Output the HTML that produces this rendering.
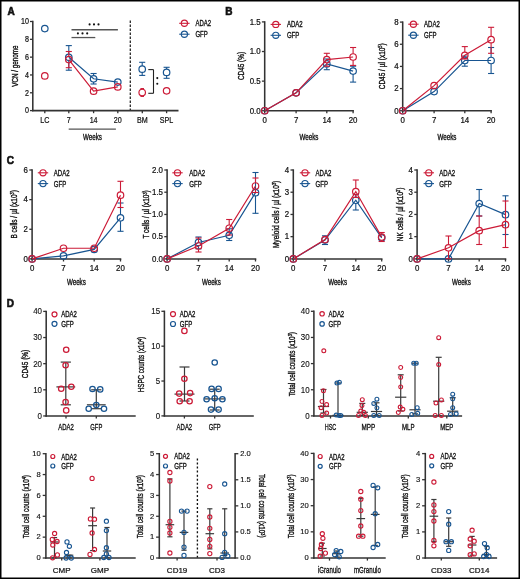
<!DOCTYPE html>
<html><head><meta charset="utf-8">
<style>
html,body{margin:0;padding:0;background:#fff;}
body{width:520px;height:579px;overflow:hidden;}
svg{display:block;font-family:"Liberation Sans",sans-serif;will-change:transform;filter:blur(0.3px);}
</style></head><body>
<svg width="520" height="579" viewBox="0 0 520 579" fill="#111">
<rect x="0.75" y="0.75" width="518.5" height="577.5" fill="#fff" stroke="#000" stroke-width="1.5"/>
<text x="7.6" y="14.9" font-size="10" font-weight="bold" stroke="#111" stroke-width="0.6">A</text>
<line x1="32.8" y1="20.8" x2="32.8" y2="111.3" stroke="#333" stroke-width="1.55"/>
<line x1="30" y1="110.6" x2="32.8" y2="110.6" stroke="#333" stroke-width="1.3"/>
<text x="25.03" y="113.4" font-size="8.3" textLength="3.97" lengthAdjust="spacingAndGlyphs" stroke="#111" stroke-width="0.22">0</text>
<line x1="30" y1="92.78" x2="32.8" y2="92.78" stroke="#333" stroke-width="1.3"/>
<text x="25.03" y="95.58" font-size="8.3" textLength="3.97" lengthAdjust="spacingAndGlyphs" stroke="#111" stroke-width="0.22">2</text>
<line x1="30" y1="74.96" x2="32.8" y2="74.96" stroke="#333" stroke-width="1.3"/>
<text x="25.03" y="77.76" font-size="8.3" textLength="3.97" lengthAdjust="spacingAndGlyphs" stroke="#111" stroke-width="0.22">4</text>
<line x1="30" y1="57.14" x2="32.8" y2="57.14" stroke="#333" stroke-width="1.3"/>
<text x="25.03" y="59.94" font-size="8.3" textLength="3.97" lengthAdjust="spacingAndGlyphs" stroke="#111" stroke-width="0.22">6</text>
<line x1="30" y1="39.32" x2="32.8" y2="39.32" stroke="#333" stroke-width="1.3"/>
<text x="25.03" y="42.12" font-size="8.3" textLength="3.97" lengthAdjust="spacingAndGlyphs" stroke="#111" stroke-width="0.22">8</text>
<line x1="30" y1="21.5" x2="32.8" y2="21.5" stroke="#333" stroke-width="1.3"/>
<text x="21.06" y="24.3" font-size="8.3" textLength="7.94" lengthAdjust="spacingAndGlyphs" stroke="#111" stroke-width="0.22">10</text>
<text x="-3.1" y="66.1" font-size="8.4" textLength="41.4" lengthAdjust="spacingAndGlyphs" stroke="#111" stroke-width="0.36" transform="rotate(-90 17.6 66.1)">VCN / genome</text>
<line x1="32.1" y1="110.6" x2="178.5" y2="110.6" stroke="#333" stroke-width="1.55"/>
<line x1="44.8" y1="110.6" x2="44.8" y2="113.2" stroke="#333" stroke-width="1.3"/>
<text x="40.24" y="123.1" font-size="8.3" textLength="9.12" lengthAdjust="spacingAndGlyphs" stroke="#111" stroke-width="0.22">LC</text>
<line x1="68.8" y1="110.6" x2="68.8" y2="113.2" stroke="#333" stroke-width="1.3"/>
<text x="66.82" y="123.1" font-size="8.3" textLength="3.97" lengthAdjust="spacingAndGlyphs" stroke="#111" stroke-width="0.22">7</text>
<line x1="93.6" y1="110.6" x2="93.6" y2="113.2" stroke="#333" stroke-width="1.3"/>
<text x="89.63" y="123.1" font-size="8.3" textLength="7.94" lengthAdjust="spacingAndGlyphs" stroke="#111" stroke-width="0.22">14</text>
<line x1="117.8" y1="110.6" x2="117.8" y2="113.2" stroke="#333" stroke-width="1.3"/>
<text x="113.83" y="123.1" font-size="8.3" textLength="7.94" lengthAdjust="spacingAndGlyphs" stroke="#111" stroke-width="0.22">20</text>
<line x1="142.3" y1="110.6" x2="142.3" y2="113.2" stroke="#333" stroke-width="1.3"/>
<text x="136.95" y="123.1" font-size="8.3" textLength="10.71" lengthAdjust="spacingAndGlyphs" stroke="#111" stroke-width="0.22">BM</text>
<line x1="166.6" y1="110.6" x2="166.6" y2="113.2" stroke="#333" stroke-width="1.3"/>
<text x="159.85" y="123.1" font-size="8.3" textLength="13.49" lengthAdjust="spacingAndGlyphs" stroke="#111" stroke-width="0.22">SPL</text>
<line x1="68.7" y1="129.1" x2="115.9" y2="129.1" stroke="#555" stroke-width="1.35"/>
<text x="83.05" y="139.9" font-size="8.6" textLength="18.9" lengthAdjust="spacingAndGlyphs" stroke="#111" stroke-width="0.36">Weeks</text>
<line x1="130.3" y1="20.5" x2="130.3" y2="110" stroke="#222" stroke-width="1.25" stroke-dasharray="2.4,1.6"/>
<line x1="71.5" y1="29.75" x2="117.9" y2="29.75" stroke="#555" stroke-width="1.4"/>
<line x1="71.5" y1="37.55" x2="95.3" y2="37.55" stroke="#555" stroke-width="1.3"/>
<circle cx="89.6" cy="24.4" r="1.05" fill="#111"/>
<circle cx="94" cy="24.4" r="1.05" fill="#111"/>
<circle cx="98.5" cy="24.4" r="1.05" fill="#111"/>
<circle cx="77.9" cy="33.4" r="1.05" fill="#111"/>
<circle cx="82.5" cy="33.4" r="1.05" fill="#111"/>
<circle cx="87.2" cy="33.4" r="1.05" fill="#111"/>
<line x1="153.5" y1="69.6" x2="153.5" y2="93.3" stroke="#222" stroke-width="1.1"/>
<line x1="148.3" y1="69.6" x2="153.5" y2="69.6" stroke="#222" stroke-width="1.1"/>
<line x1="148.3" y1="93.3" x2="153.5" y2="93.3" stroke="#222" stroke-width="1.1"/>
<circle cx="157.3" cy="78.1" r="1.05" fill="#111"/>
<circle cx="157.3" cy="83.8" r="1.05" fill="#111"/>
<polyline points="68.8,57.3 93.6,78.8 117.8,82.1" fill="none" stroke="#185591" stroke-width="1.2"/>
<line x1="68.8" y1="45.6" x2="68.8" y2="54" stroke="#185591" stroke-width="1.1"/>
<line x1="68.8" y1="60.6" x2="68.8" y2="70.2" stroke="#185591" stroke-width="1.1"/>
<line x1="65.75" y1="45.6" x2="71.85" y2="45.6" stroke="#185591" stroke-width="1.1"/>
<line x1="65.75" y1="70.2" x2="71.85" y2="70.2" stroke="#185591" stroke-width="1.1"/>
<line x1="93.6" y1="73.5" x2="93.6" y2="75.5" stroke="#185591" stroke-width="1.1"/>
<line x1="93.6" y1="82.1" x2="93.6" y2="84" stroke="#185591" stroke-width="1.1"/>
<line x1="90.55" y1="73.5" x2="96.65" y2="73.5" stroke="#185591" stroke-width="1.1"/>
<line x1="90.55" y1="84" x2="96.65" y2="84" stroke="#185591" stroke-width="1.1"/>
<circle cx="68.8" cy="57.3" r="3.25" fill="none" stroke="#185591" stroke-width="1.2"/>
<circle cx="93.6" cy="78.8" r="3.25" fill="none" stroke="#185591" stroke-width="1.2"/>
<circle cx="117.8" cy="82.1" r="3.25" fill="none" stroke="#185591" stroke-width="1.2"/>
<polyline points="68.8,59.6 93.6,91.2 117.8,86.9" fill="none" stroke="#cc1b37" stroke-width="1.2"/>
<line x1="68.8" y1="51.5" x2="68.8" y2="56.3" stroke="#cc1b37" stroke-width="1.1"/>
<line x1="68.8" y1="62.9" x2="68.8" y2="67.7" stroke="#cc1b37" stroke-width="1.1"/>
<line x1="65.75" y1="51.5" x2="71.85" y2="51.5" stroke="#cc1b37" stroke-width="1.1"/>
<line x1="65.75" y1="67.7" x2="71.85" y2="67.7" stroke="#cc1b37" stroke-width="1.1"/>
<circle cx="68.8" cy="59.6" r="3.25" fill="none" stroke="#cc1b37" stroke-width="1.2"/>
<circle cx="93.6" cy="91.2" r="3.25" fill="none" stroke="#cc1b37" stroke-width="1.2"/>
<circle cx="117.8" cy="86.9" r="3.25" fill="none" stroke="#cc1b37" stroke-width="1.2"/>
<circle cx="44.8" cy="28.6" r="3.25" fill="none" stroke="#185591" stroke-width="1.2"/>
<circle cx="44.8" cy="75.9" r="3.25" fill="none" stroke="#cc1b37" stroke-width="1.2"/>
<line x1="142.2" y1="62.3" x2="142.2" y2="65.9" stroke="#185591" stroke-width="1.1"/>
<line x1="142.2" y1="72.5" x2="142.2" y2="75.4" stroke="#185591" stroke-width="1.1"/>
<line x1="139.15" y1="62.3" x2="145.25" y2="62.3" stroke="#185591" stroke-width="1.1"/>
<line x1="139.15" y1="75.4" x2="145.25" y2="75.4" stroke="#185591" stroke-width="1.1"/>
<circle cx="142.2" cy="69.2" r="3.25" fill="none" stroke="#185591" stroke-width="1.2"/>
<line x1="142.2" y1="88.6" x2="142.2" y2="89.2" stroke="#cc1b37" stroke-width="1.1"/>
<line x1="142.2" y1="95.8" x2="142.2" y2="96.4" stroke="#cc1b37" stroke-width="1.1"/>
<line x1="140.4" y1="88.6" x2="144" y2="88.6" stroke="#cc1b37" stroke-width="1.1"/>
<line x1="140.4" y1="96.4" x2="144" y2="96.4" stroke="#cc1b37" stroke-width="1.1"/>
<circle cx="142.2" cy="92.5" r="3.25" fill="none" stroke="#cc1b37" stroke-width="1.2"/>
<line x1="166.6" y1="67.3" x2="166.6" y2="69.1" stroke="#185591" stroke-width="1.1"/>
<line x1="166.6" y1="75.7" x2="166.6" y2="78.3" stroke="#185591" stroke-width="1.1"/>
<line x1="163.55" y1="67.3" x2="169.65" y2="67.3" stroke="#185591" stroke-width="1.1"/>
<line x1="163.55" y1="78.3" x2="169.65" y2="78.3" stroke="#185591" stroke-width="1.1"/>
<circle cx="166.6" cy="72.4" r="3.25" fill="none" stroke="#185591" stroke-width="1.2"/>
<circle cx="166.6" cy="90.8" r="3.25" fill="none" stroke="#cc1b37" stroke-width="1.2"/>
<line x1="179.2" y1="23.3" x2="189.6" y2="23.3" stroke="#cc1b37" stroke-width="1.1"/>
<circle cx="184.4" cy="23.3" r="3.1" fill="none" stroke="#cc1b37" stroke-width="1.15"/>
<text x="195.4" y="26.3" font-size="8.2" textLength="15.6" lengthAdjust="spacingAndGlyphs" stroke="#111" stroke-width="0.33">ADA2</text>
<line x1="179.2" y1="34.2" x2="189.6" y2="34.2" stroke="#185591" stroke-width="1.1"/>
<circle cx="184.4" cy="34.2" r="3.1" fill="none" stroke="#185591" stroke-width="1.15"/>
<text x="195.4" y="37.2" font-size="8.2" textLength="12.5" lengthAdjust="spacingAndGlyphs" stroke="#111" stroke-width="0.33">GFP</text>
<text x="225.3" y="14.8" font-size="10" font-weight="bold" stroke="#111" stroke-width="0.6">B</text>
<line x1="264.7" y1="21.2" x2="264.7" y2="111.45" stroke="#333" stroke-width="1.55"/>
<line x1="261.9" y1="110.75" x2="264.7" y2="110.75" stroke="#333" stroke-width="1.3"/>
<text x="249.64" y="113.55" font-size="8.3" textLength="10.96" lengthAdjust="spacingAndGlyphs" stroke="#111" stroke-width="0.22">0.0</text>
<line x1="261.9" y1="81.13" x2="264.7" y2="81.13" stroke="#333" stroke-width="1.3"/>
<text x="249.64" y="83.93" font-size="8.3" textLength="10.96" lengthAdjust="spacingAndGlyphs" stroke="#111" stroke-width="0.22">0.5</text>
<line x1="261.9" y1="51.52" x2="264.7" y2="51.52" stroke="#333" stroke-width="1.3"/>
<text x="249.64" y="54.32" font-size="8.3" textLength="10.96" lengthAdjust="spacingAndGlyphs" stroke="#111" stroke-width="0.22">1.0</text>
<line x1="261.9" y1="21.9" x2="264.7" y2="21.9" stroke="#333" stroke-width="1.3"/>
<text x="249.64" y="24.7" font-size="8.3" textLength="10.96" lengthAdjust="spacingAndGlyphs" stroke="#111" stroke-width="0.22">1.5</text>
<line x1="264" y1="110.75" x2="353.9" y2="110.75" stroke="#333" stroke-width="1.55"/>
<line x1="264.7" y1="110.75" x2="264.7" y2="113.35" stroke="#333" stroke-width="1.3"/>
<text x="262.51" y="123" font-size="8.3" textLength="4.38" lengthAdjust="spacingAndGlyphs" stroke="#111" stroke-width="0.22">0</text>
<line x1="296.1" y1="110.75" x2="296.1" y2="113.35" stroke="#333" stroke-width="1.3"/>
<text x="293.91" y="123" font-size="8.3" textLength="4.38" lengthAdjust="spacingAndGlyphs" stroke="#111" stroke-width="0.22">7</text>
<line x1="326.8" y1="110.75" x2="326.8" y2="113.35" stroke="#333" stroke-width="1.3"/>
<text x="322.42" y="123" font-size="8.3" textLength="8.77" lengthAdjust="spacingAndGlyphs" stroke="#111" stroke-width="0.22">14</text>
<line x1="353.1" y1="110.75" x2="353.1" y2="113.35" stroke="#333" stroke-width="1.3"/>
<text x="348.72" y="123" font-size="8.3" textLength="8.77" lengthAdjust="spacingAndGlyphs" stroke="#111" stroke-width="0.22">20</text>
<text x="299.55" y="139.7" font-size="8.6" textLength="18.9" lengthAdjust="spacingAndGlyphs" stroke="#111" stroke-width="0.36">Weeks</text>
<text x="229.5" y="66" font-size="8.4" textLength="28.2" lengthAdjust="spacingAndGlyphs" stroke="#111" stroke-width="0.36" transform="rotate(-90 243.6 66)">CD45 (%)</text>
<polyline points="264.7,110.75 296.1,92.8 326.8,63.9 353.1,71.1" fill="none" stroke="#185591" stroke-width="1.2"/>
<line x1="326.8" y1="59" x2="326.8" y2="60.6" stroke="#185591" stroke-width="1.1"/>
<line x1="326.8" y1="67.2" x2="326.8" y2="69.7" stroke="#185591" stroke-width="1.1"/>
<line x1="323.75" y1="59" x2="329.85" y2="59" stroke="#185591" stroke-width="1.1"/>
<line x1="323.75" y1="69.7" x2="329.85" y2="69.7" stroke="#185591" stroke-width="1.1"/>
<line x1="353.1" y1="66.2" x2="353.1" y2="67.8" stroke="#185591" stroke-width="1.1"/>
<line x1="353.1" y1="74.4" x2="353.1" y2="82.1" stroke="#185591" stroke-width="1.1"/>
<line x1="350.05" y1="66.2" x2="356.15" y2="66.2" stroke="#185591" stroke-width="1.1"/>
<line x1="350.05" y1="82.1" x2="356.15" y2="82.1" stroke="#185591" stroke-width="1.1"/>
<circle cx="264.7" cy="110.75" r="3.25" fill="none" stroke="#185591" stroke-width="1.2"/>
<circle cx="296.1" cy="92.8" r="3.25" fill="none" stroke="#185591" stroke-width="1.2"/>
<circle cx="326.8" cy="63.9" r="3.25" fill="none" stroke="#185591" stroke-width="1.2"/>
<circle cx="353.1" cy="71.1" r="3.25" fill="none" stroke="#185591" stroke-width="1.2"/>
<polyline points="264.7,110.75 296.1,92.8 326.8,59.6 353.1,57" fill="none" stroke="#cc1b37" stroke-width="1.2"/>
<line x1="326.8" y1="53.3" x2="326.8" y2="56.3" stroke="#cc1b37" stroke-width="1.1"/>
<line x1="326.8" y1="62.9" x2="326.8" y2="66.2" stroke="#cc1b37" stroke-width="1.1"/>
<line x1="323.75" y1="53.3" x2="329.85" y2="53.3" stroke="#cc1b37" stroke-width="1.1"/>
<line x1="323.75" y1="66.2" x2="329.85" y2="66.2" stroke="#cc1b37" stroke-width="1.1"/>
<line x1="353.1" y1="47.5" x2="353.1" y2="53.7" stroke="#cc1b37" stroke-width="1.1"/>
<line x1="353.1" y1="60.3" x2="353.1" y2="65.4" stroke="#cc1b37" stroke-width="1.1"/>
<line x1="350.05" y1="47.5" x2="356.15" y2="47.5" stroke="#cc1b37" stroke-width="1.1"/>
<line x1="350.05" y1="65.4" x2="356.15" y2="65.4" stroke="#cc1b37" stroke-width="1.1"/>
<circle cx="264.7" cy="110.75" r="3.25" fill="none" stroke="#cc1b37" stroke-width="1.2"/>
<circle cx="296.1" cy="92.8" r="3.25" fill="none" stroke="#cc1b37" stroke-width="1.2"/>
<circle cx="326.8" cy="59.6" r="3.25" fill="none" stroke="#cc1b37" stroke-width="1.2"/>
<circle cx="353.1" cy="57" r="3.25" fill="none" stroke="#cc1b37" stroke-width="1.2"/>
<line x1="270.6" y1="24.4" x2="281" y2="24.4" stroke="#cc1b37" stroke-width="1.1"/>
<circle cx="275.8" cy="24.4" r="3.1" fill="none" stroke="#cc1b37" stroke-width="1.15"/>
<text x="286.9" y="27.4" font-size="8.2" textLength="15.8" lengthAdjust="spacingAndGlyphs" stroke="#111" stroke-width="0.33">ADA2</text>
<line x1="270.6" y1="35.3" x2="281" y2="35.3" stroke="#185591" stroke-width="1.1"/>
<circle cx="275.8" cy="35.3" r="3.1" fill="none" stroke="#185591" stroke-width="1.15"/>
<text x="286.9" y="38.3" font-size="8.2" textLength="12.5" lengthAdjust="spacingAndGlyphs" stroke="#111" stroke-width="0.33">GFP</text>
<line x1="402.7" y1="21.4" x2="402.7" y2="111.45" stroke="#333" stroke-width="1.55"/>
<line x1="399.9" y1="110.75" x2="402.7" y2="110.75" stroke="#333" stroke-width="1.3"/>
<text x="394.22" y="113.55" font-size="8.3" textLength="4.38" lengthAdjust="spacingAndGlyphs" stroke="#111" stroke-width="0.22">0</text>
<line x1="399.9" y1="88.59" x2="402.7" y2="88.59" stroke="#333" stroke-width="1.3"/>
<text x="394.22" y="91.39" font-size="8.3" textLength="4.38" lengthAdjust="spacingAndGlyphs" stroke="#111" stroke-width="0.22">2</text>
<line x1="399.9" y1="66.42" x2="402.7" y2="66.42" stroke="#333" stroke-width="1.3"/>
<text x="394.22" y="69.22" font-size="8.3" textLength="4.38" lengthAdjust="spacingAndGlyphs" stroke="#111" stroke-width="0.22">4</text>
<line x1="399.9" y1="44.26" x2="402.7" y2="44.26" stroke="#333" stroke-width="1.3"/>
<text x="394.22" y="47.06" font-size="8.3" textLength="4.38" lengthAdjust="spacingAndGlyphs" stroke="#111" stroke-width="0.22">6</text>
<line x1="399.9" y1="22.1" x2="402.7" y2="22.1" stroke="#333" stroke-width="1.3"/>
<text x="394.22" y="24.9" font-size="8.3" textLength="4.38" lengthAdjust="spacingAndGlyphs" stroke="#111" stroke-width="0.22">8</text>
<line x1="402" y1="110.75" x2="491.9" y2="110.75" stroke="#333" stroke-width="1.55"/>
<line x1="402.7" y1="110.75" x2="402.7" y2="113.35" stroke="#333" stroke-width="1.3"/>
<text x="400.51" y="123" font-size="8.3" textLength="4.38" lengthAdjust="spacingAndGlyphs" stroke="#111" stroke-width="0.22">0</text>
<line x1="434.1" y1="110.75" x2="434.1" y2="113.35" stroke="#333" stroke-width="1.3"/>
<text x="431.91" y="123" font-size="8.3" textLength="4.38" lengthAdjust="spacingAndGlyphs" stroke="#111" stroke-width="0.22">7</text>
<line x1="464.8" y1="110.75" x2="464.8" y2="113.35" stroke="#333" stroke-width="1.3"/>
<text x="460.42" y="123" font-size="8.3" textLength="8.77" lengthAdjust="spacingAndGlyphs" stroke="#111" stroke-width="0.22">14</text>
<line x1="491.1" y1="110.75" x2="491.1" y2="113.35" stroke="#333" stroke-width="1.3"/>
<text x="486.72" y="123" font-size="8.3" textLength="8.77" lengthAdjust="spacingAndGlyphs" stroke="#111" stroke-width="0.22">20</text>
<text x="437.55" y="139.7" font-size="8.6" textLength="18.9" lengthAdjust="spacingAndGlyphs" stroke="#111" stroke-width="0.36">Weeks</text>
<text x="362" y="66.3" font-size="8.4" textLength="46" lengthAdjust="spacingAndGlyphs" stroke="#111" stroke-width="0.36" transform="rotate(-90 385 66.3)">CD45 / &#181;l (x10<tspan font-size="5" dy="-2.6">5</tspan><tspan dy="2.6">)</tspan></text>
<polyline points="402.7,110.75 434.1,91.6 464.8,60.5 491.1,60.5" fill="none" stroke="#185591" stroke-width="1.2"/>
<line x1="464.8" y1="56.1" x2="464.8" y2="57.2" stroke="#185591" stroke-width="1.1"/>
<line x1="464.8" y1="63.8" x2="464.8" y2="66.2" stroke="#185591" stroke-width="1.1"/>
<line x1="461.75" y1="56.1" x2="467.85" y2="56.1" stroke="#185591" stroke-width="1.1"/>
<line x1="461.75" y1="66.2" x2="467.85" y2="66.2" stroke="#185591" stroke-width="1.1"/>
<line x1="491.1" y1="47.5" x2="491.1" y2="57.2" stroke="#185591" stroke-width="1.1"/>
<line x1="491.1" y1="63.8" x2="491.1" y2="73.5" stroke="#185591" stroke-width="1.1"/>
<line x1="488.05" y1="47.5" x2="494.15" y2="47.5" stroke="#185591" stroke-width="1.1"/>
<line x1="488.05" y1="73.5" x2="494.15" y2="73.5" stroke="#185591" stroke-width="1.1"/>
<circle cx="402.7" cy="110.75" r="3.25" fill="none" stroke="#185591" stroke-width="1.2"/>
<circle cx="434.1" cy="91.6" r="3.25" fill="none" stroke="#185591" stroke-width="1.2"/>
<circle cx="464.8" cy="60.5" r="3.25" fill="none" stroke="#185591" stroke-width="1.2"/>
<circle cx="491.1" cy="60.5" r="3.25" fill="none" stroke="#185591" stroke-width="1.2"/>
<polyline points="402.7,110.75 434.1,85.6 464.8,55.3 491.1,39.7" fill="none" stroke="#cc1b37" stroke-width="1.2"/>
<line x1="464.8" y1="46.6" x2="464.8" y2="52" stroke="#cc1b37" stroke-width="1.1"/>
<line x1="464.8" y1="58.6" x2="464.8" y2="59" stroke="#cc1b37" stroke-width="1.1"/>
<line x1="461.75" y1="46.6" x2="467.85" y2="46.6" stroke="#cc1b37" stroke-width="1.1"/>
<line x1="461.75" y1="59" x2="467.85" y2="59" stroke="#cc1b37" stroke-width="1.1"/>
<line x1="491.1" y1="27.3" x2="491.1" y2="36.4" stroke="#cc1b37" stroke-width="1.1"/>
<line x1="491.1" y1="43" x2="491.1" y2="53.3" stroke="#cc1b37" stroke-width="1.1"/>
<line x1="488.05" y1="27.3" x2="494.15" y2="27.3" stroke="#cc1b37" stroke-width="1.1"/>
<line x1="488.05" y1="53.3" x2="494.15" y2="53.3" stroke="#cc1b37" stroke-width="1.1"/>
<circle cx="402.7" cy="110.75" r="3.25" fill="none" stroke="#cc1b37" stroke-width="1.2"/>
<circle cx="434.1" cy="85.6" r="3.25" fill="none" stroke="#cc1b37" stroke-width="1.2"/>
<circle cx="464.8" cy="55.3" r="3.25" fill="none" stroke="#cc1b37" stroke-width="1.2"/>
<circle cx="491.1" cy="39.7" r="3.25" fill="none" stroke="#cc1b37" stroke-width="1.2"/>
<line x1="408.2" y1="24.2" x2="418.6" y2="24.2" stroke="#cc1b37" stroke-width="1.1"/>
<circle cx="413.4" cy="24.2" r="3.1" fill="none" stroke="#cc1b37" stroke-width="1.15"/>
<text x="424" y="27.2" font-size="8.2" textLength="15.8" lengthAdjust="spacingAndGlyphs" stroke="#111" stroke-width="0.33">ADA2</text>
<line x1="408.2" y1="35.2" x2="418.6" y2="35.2" stroke="#185591" stroke-width="1.1"/>
<circle cx="413.4" cy="35.2" r="3.1" fill="none" stroke="#185591" stroke-width="1.15"/>
<text x="424" y="38.2" font-size="8.2" textLength="12.5" lengthAdjust="spacingAndGlyphs" stroke="#111" stroke-width="0.33">GFP</text>
<text x="6.8" y="163.6" font-size="10" font-weight="bold" stroke="#111" stroke-width="0.6">C</text>
<line x1="32.1" y1="169.3" x2="32.1" y2="259.6" stroke="#333" stroke-width="1.55"/>
<line x1="29.3" y1="258.9" x2="32.1" y2="258.9" stroke="#333" stroke-width="1.3"/>
<text x="23.62" y="261.7" font-size="8.3" textLength="4.38" lengthAdjust="spacingAndGlyphs" stroke="#111" stroke-width="0.22">0</text>
<line x1="29.3" y1="229.27" x2="32.1" y2="229.27" stroke="#333" stroke-width="1.3"/>
<text x="23.62" y="232.07" font-size="8.3" textLength="4.38" lengthAdjust="spacingAndGlyphs" stroke="#111" stroke-width="0.22">2</text>
<line x1="29.3" y1="199.63" x2="32.1" y2="199.63" stroke="#333" stroke-width="1.3"/>
<text x="23.62" y="202.43" font-size="8.3" textLength="4.38" lengthAdjust="spacingAndGlyphs" stroke="#111" stroke-width="0.22">4</text>
<line x1="29.3" y1="170" x2="32.1" y2="170" stroke="#333" stroke-width="1.3"/>
<text x="23.62" y="172.8" font-size="8.3" textLength="4.38" lengthAdjust="spacingAndGlyphs" stroke="#111" stroke-width="0.22">6</text>
<line x1="31.4" y1="258.9" x2="121.3" y2="258.9" stroke="#333" stroke-width="1.55"/>
<line x1="32.1" y1="258.9" x2="32.1" y2="261.5" stroke="#333" stroke-width="1.3"/>
<text x="29.91" y="271.2" font-size="8.3" textLength="4.38" lengthAdjust="spacingAndGlyphs" stroke="#111" stroke-width="0.22">0</text>
<line x1="63.5" y1="258.9" x2="63.5" y2="261.5" stroke="#333" stroke-width="1.3"/>
<text x="61.31" y="271.2" font-size="8.3" textLength="4.38" lengthAdjust="spacingAndGlyphs" stroke="#111" stroke-width="0.22">7</text>
<line x1="94.2" y1="258.9" x2="94.2" y2="261.5" stroke="#333" stroke-width="1.3"/>
<text x="89.82" y="271.2" font-size="8.3" textLength="8.77" lengthAdjust="spacingAndGlyphs" stroke="#111" stroke-width="0.22">14</text>
<line x1="120.5" y1="258.9" x2="120.5" y2="261.5" stroke="#333" stroke-width="1.3"/>
<text x="116.12" y="271.2" font-size="8.3" textLength="8.77" lengthAdjust="spacingAndGlyphs" stroke="#111" stroke-width="0.22">20</text>
<text x="66.95" y="284.8" font-size="8.6" textLength="18.9" lengthAdjust="spacingAndGlyphs" stroke="#111" stroke-width="0.36">Weeks</text>
<text x="-7.4" y="214.4" font-size="8.4" textLength="48.4" lengthAdjust="spacingAndGlyphs" stroke="#111" stroke-width="0.36" transform="rotate(-90 16.8 214.4)">B cells / &#181;l (x10<tspan font-size="5" dy="-2.6">3</tspan><tspan dy="2.6">)</tspan></text>
<polyline points="32.1,258.9 63.5,255.94 94.2,249.42 120.5,217.86" fill="none" stroke="#185591" stroke-width="1.2"/>
<line x1="120.5" y1="203" x2="120.5" y2="214.56" stroke="#185591" stroke-width="1.1"/>
<line x1="120.5" y1="221.16" x2="120.5" y2="231.3" stroke="#185591" stroke-width="1.1"/>
<line x1="117.45" y1="203" x2="123.55" y2="203" stroke="#185591" stroke-width="1.1"/>
<line x1="117.45" y1="231.3" x2="123.55" y2="231.3" stroke="#185591" stroke-width="1.1"/>
<circle cx="32.1" cy="258.9" r="3.25" fill="none" stroke="#185591" stroke-width="1.2"/>
<circle cx="63.5" cy="255.94" r="3.25" fill="none" stroke="#185591" stroke-width="1.2"/>
<circle cx="94.2" cy="249.42" r="3.25" fill="none" stroke="#185591" stroke-width="1.2"/>
<circle cx="120.5" cy="217.86" r="3.25" fill="none" stroke="#185591" stroke-width="1.2"/>
<polyline points="32.1,258.9 63.5,248.23 94.2,248.23 120.5,195.19" fill="none" stroke="#cc1b37" stroke-width="1.2"/>
<line x1="120.5" y1="181.3" x2="120.5" y2="191.89" stroke="#cc1b37" stroke-width="1.1"/>
<line x1="120.5" y1="198.49" x2="120.5" y2="207.5" stroke="#cc1b37" stroke-width="1.1"/>
<line x1="117.45" y1="181.3" x2="123.55" y2="181.3" stroke="#cc1b37" stroke-width="1.1"/>
<line x1="117.45" y1="207.5" x2="123.55" y2="207.5" stroke="#cc1b37" stroke-width="1.1"/>
<circle cx="32.1" cy="258.9" r="3.25" fill="none" stroke="#cc1b37" stroke-width="1.2"/>
<circle cx="63.5" cy="248.23" r="3.25" fill="none" stroke="#cc1b37" stroke-width="1.2"/>
<circle cx="94.2" cy="248.23" r="3.25" fill="none" stroke="#cc1b37" stroke-width="1.2"/>
<circle cx="120.5" cy="195.19" r="3.25" fill="none" stroke="#cc1b37" stroke-width="1.2"/>
<line x1="37.8" y1="172.8" x2="48.2" y2="172.8" stroke="#cc1b37" stroke-width="1.1"/>
<circle cx="43" cy="172.8" r="3.1" fill="none" stroke="#cc1b37" stroke-width="1.15"/>
<text x="53.8" y="175.8" font-size="8.2" textLength="15.8" lengthAdjust="spacingAndGlyphs" stroke="#111" stroke-width="0.33">ADA2</text>
<line x1="37.8" y1="183.6" x2="48.2" y2="183.6" stroke="#185591" stroke-width="1.1"/>
<circle cx="43" cy="183.6" r="3.1" fill="none" stroke="#185591" stroke-width="1.15"/>
<text x="53.8" y="186.6" font-size="8.2" textLength="12.5" lengthAdjust="spacingAndGlyphs" stroke="#111" stroke-width="0.33">GFP</text>
<line x1="167.1" y1="169.3" x2="167.1" y2="259.6" stroke="#333" stroke-width="1.55"/>
<line x1="164.3" y1="258.9" x2="167.1" y2="258.9" stroke="#333" stroke-width="1.3"/>
<text x="152.04" y="261.7" font-size="8.3" textLength="10.96" lengthAdjust="spacingAndGlyphs" stroke="#111" stroke-width="0.22">0.0</text>
<line x1="164.3" y1="236.67" x2="167.1" y2="236.67" stroke="#333" stroke-width="1.3"/>
<text x="152.04" y="239.47" font-size="8.3" textLength="10.96" lengthAdjust="spacingAndGlyphs" stroke="#111" stroke-width="0.22">0.5</text>
<line x1="164.3" y1="214.45" x2="167.1" y2="214.45" stroke="#333" stroke-width="1.3"/>
<text x="152.04" y="217.25" font-size="8.3" textLength="10.96" lengthAdjust="spacingAndGlyphs" stroke="#111" stroke-width="0.22">1.0</text>
<line x1="164.3" y1="192.22" x2="167.1" y2="192.22" stroke="#333" stroke-width="1.3"/>
<text x="152.04" y="195.03" font-size="8.3" textLength="10.96" lengthAdjust="spacingAndGlyphs" stroke="#111" stroke-width="0.22">1.5</text>
<line x1="164.3" y1="170" x2="167.1" y2="170" stroke="#333" stroke-width="1.3"/>
<text x="152.04" y="172.8" font-size="8.3" textLength="10.96" lengthAdjust="spacingAndGlyphs" stroke="#111" stroke-width="0.22">2.0</text>
<line x1="166.4" y1="258.9" x2="256.3" y2="258.9" stroke="#333" stroke-width="1.55"/>
<line x1="167.1" y1="258.9" x2="167.1" y2="261.5" stroke="#333" stroke-width="1.3"/>
<text x="164.91" y="271.2" font-size="8.3" textLength="4.38" lengthAdjust="spacingAndGlyphs" stroke="#111" stroke-width="0.22">0</text>
<line x1="198.5" y1="258.9" x2="198.5" y2="261.5" stroke="#333" stroke-width="1.3"/>
<text x="196.31" y="271.2" font-size="8.3" textLength="4.38" lengthAdjust="spacingAndGlyphs" stroke="#111" stroke-width="0.22">7</text>
<line x1="229.2" y1="258.9" x2="229.2" y2="261.5" stroke="#333" stroke-width="1.3"/>
<text x="224.82" y="271.2" font-size="8.3" textLength="8.77" lengthAdjust="spacingAndGlyphs" stroke="#111" stroke-width="0.22">14</text>
<line x1="255.5" y1="258.9" x2="255.5" y2="261.5" stroke="#333" stroke-width="1.3"/>
<text x="251.12" y="271.2" font-size="8.3" textLength="8.77" lengthAdjust="spacingAndGlyphs" stroke="#111" stroke-width="0.22">20</text>
<text x="201.95" y="284.8" font-size="8.6" textLength="18.9" lengthAdjust="spacingAndGlyphs" stroke="#111" stroke-width="0.36">Weeks</text>
<text x="125.2" y="214.4" font-size="8.4" textLength="48.4" lengthAdjust="spacingAndGlyphs" stroke="#111" stroke-width="0.36" transform="rotate(-90 149.4 214.4)">T cells / &#181;l (x10<tspan font-size="5" dy="-2.6">3</tspan><tspan dy="2.6">)</tspan></text>
<polyline points="167.1,258.9 198.5,242.45 229.2,235.34 255.5,192.67" fill="none" stroke="#185591" stroke-width="1.2"/>
<line x1="198.5" y1="237" x2="198.5" y2="239.15" stroke="#185591" stroke-width="1.1"/>
<line x1="198.5" y1="245.75" x2="198.5" y2="248.8" stroke="#185591" stroke-width="1.1"/>
<line x1="195.45" y1="237" x2="201.55" y2="237" stroke="#185591" stroke-width="1.1"/>
<line x1="195.45" y1="248.8" x2="201.55" y2="248.8" stroke="#185591" stroke-width="1.1"/>
<line x1="229.2" y1="228.8" x2="229.2" y2="232.04" stroke="#185591" stroke-width="1.1"/>
<line x1="229.2" y1="238.64" x2="229.2" y2="240.5" stroke="#185591" stroke-width="1.1"/>
<line x1="226.15" y1="228.8" x2="232.25" y2="228.8" stroke="#185591" stroke-width="1.1"/>
<line x1="226.15" y1="240.5" x2="232.25" y2="240.5" stroke="#185591" stroke-width="1.1"/>
<line x1="255.5" y1="172.5" x2="255.5" y2="189.37" stroke="#185591" stroke-width="1.1"/>
<line x1="255.5" y1="195.97" x2="255.5" y2="213.3" stroke="#185591" stroke-width="1.1"/>
<line x1="252.45" y1="172.5" x2="258.55" y2="172.5" stroke="#185591" stroke-width="1.1"/>
<line x1="252.45" y1="213.3" x2="258.55" y2="213.3" stroke="#185591" stroke-width="1.1"/>
<circle cx="167.1" cy="258.9" r="3.25" fill="none" stroke="#185591" stroke-width="1.2"/>
<circle cx="198.5" cy="242.45" r="3.25" fill="none" stroke="#185591" stroke-width="1.2"/>
<circle cx="229.2" cy="235.34" r="3.25" fill="none" stroke="#185591" stroke-width="1.2"/>
<circle cx="255.5" cy="192.67" r="3.25" fill="none" stroke="#185591" stroke-width="1.2"/>
<polyline points="167.1,258.9 198.5,246.01 229.2,228.23 255.5,186" fill="none" stroke="#cc1b37" stroke-width="1.2"/>
<line x1="198.5" y1="238" x2="198.5" y2="242.71" stroke="#cc1b37" stroke-width="1.1"/>
<line x1="198.5" y1="249.31" x2="198.5" y2="252" stroke="#cc1b37" stroke-width="1.1"/>
<line x1="195.45" y1="238" x2="201.55" y2="238" stroke="#cc1b37" stroke-width="1.1"/>
<line x1="195.45" y1="252" x2="201.55" y2="252" stroke="#cc1b37" stroke-width="1.1"/>
<line x1="229.2" y1="219.5" x2="229.2" y2="224.93" stroke="#cc1b37" stroke-width="1.1"/>
<line x1="229.2" y1="231.53" x2="229.2" y2="235" stroke="#cc1b37" stroke-width="1.1"/>
<line x1="226.15" y1="219.5" x2="232.25" y2="219.5" stroke="#cc1b37" stroke-width="1.1"/>
<line x1="226.15" y1="235" x2="232.25" y2="235" stroke="#cc1b37" stroke-width="1.1"/>
<line x1="255.5" y1="178" x2="255.5" y2="182.7" stroke="#cc1b37" stroke-width="1.1"/>
<line x1="255.5" y1="189.3" x2="255.5" y2="192.5" stroke="#cc1b37" stroke-width="1.1"/>
<line x1="252.45" y1="178" x2="258.55" y2="178" stroke="#cc1b37" stroke-width="1.1"/>
<line x1="252.45" y1="192.5" x2="258.55" y2="192.5" stroke="#cc1b37" stroke-width="1.1"/>
<circle cx="167.1" cy="258.9" r="3.25" fill="none" stroke="#cc1b37" stroke-width="1.2"/>
<circle cx="198.5" cy="246.01" r="3.25" fill="none" stroke="#cc1b37" stroke-width="1.2"/>
<circle cx="229.2" cy="228.23" r="3.25" fill="none" stroke="#cc1b37" stroke-width="1.2"/>
<circle cx="255.5" cy="186" r="3.25" fill="none" stroke="#cc1b37" stroke-width="1.2"/>
<line x1="172.3" y1="172.8" x2="182.7" y2="172.8" stroke="#cc1b37" stroke-width="1.1"/>
<circle cx="177.5" cy="172.8" r="3.1" fill="none" stroke="#cc1b37" stroke-width="1.15"/>
<text x="189.3" y="175.8" font-size="8.2" textLength="15.8" lengthAdjust="spacingAndGlyphs" stroke="#111" stroke-width="0.33">ADA2</text>
<line x1="172.3" y1="183.6" x2="182.7" y2="183.6" stroke="#185591" stroke-width="1.1"/>
<circle cx="177.5" cy="183.6" r="3.1" fill="none" stroke="#185591" stroke-width="1.15"/>
<text x="189.3" y="186.6" font-size="8.2" textLength="12.5" lengthAdjust="spacingAndGlyphs" stroke="#111" stroke-width="0.33">GFP</text>
<line x1="293.3" y1="169.3" x2="293.3" y2="259.6" stroke="#333" stroke-width="1.55"/>
<line x1="290.5" y1="258.9" x2="293.3" y2="258.9" stroke="#333" stroke-width="1.3"/>
<text x="284.82" y="261.7" font-size="8.3" textLength="4.38" lengthAdjust="spacingAndGlyphs" stroke="#111" stroke-width="0.22">0</text>
<line x1="290.5" y1="236.67" x2="293.3" y2="236.67" stroke="#333" stroke-width="1.3"/>
<text x="284.82" y="239.47" font-size="8.3" textLength="4.38" lengthAdjust="spacingAndGlyphs" stroke="#111" stroke-width="0.22">1</text>
<line x1="290.5" y1="214.45" x2="293.3" y2="214.45" stroke="#333" stroke-width="1.3"/>
<text x="284.82" y="217.25" font-size="8.3" textLength="4.38" lengthAdjust="spacingAndGlyphs" stroke="#111" stroke-width="0.22">2</text>
<line x1="290.5" y1="192.22" x2="293.3" y2="192.22" stroke="#333" stroke-width="1.3"/>
<text x="284.82" y="195.03" font-size="8.3" textLength="4.38" lengthAdjust="spacingAndGlyphs" stroke="#111" stroke-width="0.22">3</text>
<line x1="290.5" y1="170" x2="293.3" y2="170" stroke="#333" stroke-width="1.3"/>
<text x="284.82" y="172.8" font-size="8.3" textLength="4.38" lengthAdjust="spacingAndGlyphs" stroke="#111" stroke-width="0.22">4</text>
<line x1="292.6" y1="258.9" x2="382.5" y2="258.9" stroke="#333" stroke-width="1.55"/>
<line x1="293.3" y1="258.9" x2="293.3" y2="261.5" stroke="#333" stroke-width="1.3"/>
<text x="291.11" y="271.2" font-size="8.3" textLength="4.38" lengthAdjust="spacingAndGlyphs" stroke="#111" stroke-width="0.22">0</text>
<line x1="325" y1="258.9" x2="325" y2="261.5" stroke="#333" stroke-width="1.3"/>
<text x="322.81" y="271.2" font-size="8.3" textLength="4.38" lengthAdjust="spacingAndGlyphs" stroke="#111" stroke-width="0.22">7</text>
<line x1="355.8" y1="258.9" x2="355.8" y2="261.5" stroke="#333" stroke-width="1.3"/>
<text x="351.42" y="271.2" font-size="8.3" textLength="8.77" lengthAdjust="spacingAndGlyphs" stroke="#111" stroke-width="0.22">14</text>
<line x1="381.7" y1="258.9" x2="381.7" y2="261.5" stroke="#333" stroke-width="1.3"/>
<text x="377.32" y="271.2" font-size="8.3" textLength="8.77" lengthAdjust="spacingAndGlyphs" stroke="#111" stroke-width="0.22">20</text>
<text x="328.15" y="284.8" font-size="8.6" textLength="18.9" lengthAdjust="spacingAndGlyphs" stroke="#111" stroke-width="0.36">Weeks</text>
<text x="244.9" y="214.4" font-size="8.4" textLength="67.4" lengthAdjust="spacingAndGlyphs" stroke="#111" stroke-width="0.36" transform="rotate(-90 278.6 214.4)">Myeloid cells / &#181;l (x10<tspan font-size="5" dy="-2.6">3</tspan><tspan dy="2.6">)</tspan></text>
<polyline points="293.3,258.9 325,240.01 355.8,200.23 381.7,237.79" fill="none" stroke="#185591" stroke-width="1.2"/>
<line x1="325" y1="235.8" x2="325" y2="236.71" stroke="#185591" stroke-width="1.1"/>
<line x1="325" y1="243.31" x2="325" y2="244.5" stroke="#185591" stroke-width="1.1"/>
<line x1="321.95" y1="235.8" x2="328.05" y2="235.8" stroke="#185591" stroke-width="1.1"/>
<line x1="321.95" y1="244.5" x2="328.05" y2="244.5" stroke="#185591" stroke-width="1.1"/>
<line x1="355.8" y1="194.5" x2="355.8" y2="196.93" stroke="#185591" stroke-width="1.1"/>
<line x1="355.8" y1="203.53" x2="355.8" y2="210" stroke="#185591" stroke-width="1.1"/>
<line x1="352.75" y1="194.5" x2="358.85" y2="194.5" stroke="#185591" stroke-width="1.1"/>
<line x1="352.75" y1="210" x2="358.85" y2="210" stroke="#185591" stroke-width="1.1"/>
<circle cx="293.3" cy="258.9" r="3.25" fill="none" stroke="#185591" stroke-width="1.2"/>
<circle cx="325" cy="240.01" r="3.25" fill="none" stroke="#185591" stroke-width="1.2"/>
<circle cx="355.8" cy="200.23" r="3.25" fill="none" stroke="#185591" stroke-width="1.2"/>
<circle cx="381.7" cy="237.79" r="3.25" fill="none" stroke="#185591" stroke-width="1.2"/>
<polyline points="293.3,258.9 325,239.56 355.8,191.56 381.7,237.12" fill="none" stroke="#cc1b37" stroke-width="1.2"/>
<line x1="355.8" y1="180" x2="355.8" y2="188.26" stroke="#cc1b37" stroke-width="1.1"/>
<line x1="355.8" y1="194.86" x2="355.8" y2="197.5" stroke="#cc1b37" stroke-width="1.1"/>
<line x1="352.75" y1="180" x2="358.85" y2="180" stroke="#cc1b37" stroke-width="1.1"/>
<line x1="352.75" y1="197.5" x2="358.85" y2="197.5" stroke="#cc1b37" stroke-width="1.1"/>
<line x1="381.7" y1="232.5" x2="381.7" y2="233.82" stroke="#cc1b37" stroke-width="1.1"/>
<line x1="381.7" y1="240.42" x2="381.7" y2="241.5" stroke="#cc1b37" stroke-width="1.1"/>
<line x1="378.65" y1="232.5" x2="384.75" y2="232.5" stroke="#cc1b37" stroke-width="1.1"/>
<line x1="378.65" y1="241.5" x2="384.75" y2="241.5" stroke="#cc1b37" stroke-width="1.1"/>
<circle cx="293.3" cy="258.9" r="3.25" fill="none" stroke="#cc1b37" stroke-width="1.2"/>
<circle cx="325" cy="239.56" r="3.25" fill="none" stroke="#cc1b37" stroke-width="1.2"/>
<circle cx="355.8" cy="191.56" r="3.25" fill="none" stroke="#cc1b37" stroke-width="1.2"/>
<circle cx="381.7" cy="237.12" r="3.25" fill="none" stroke="#cc1b37" stroke-width="1.2"/>
<line x1="299.8" y1="172.8" x2="310.2" y2="172.8" stroke="#cc1b37" stroke-width="1.1"/>
<circle cx="305" cy="172.8" r="3.1" fill="none" stroke="#cc1b37" stroke-width="1.15"/>
<text x="315.5" y="175.8" font-size="8.2" textLength="15.8" lengthAdjust="spacingAndGlyphs" stroke="#111" stroke-width="0.33">ADA2</text>
<line x1="299.8" y1="183.6" x2="310.2" y2="183.6" stroke="#185591" stroke-width="1.1"/>
<circle cx="305" cy="183.6" r="3.1" fill="none" stroke="#185591" stroke-width="1.15"/>
<text x="315.5" y="186.6" font-size="8.2" textLength="12.5" lengthAdjust="spacingAndGlyphs" stroke="#111" stroke-width="0.33">GFP</text>
<line x1="417.1" y1="169.3" x2="417.1" y2="259.6" stroke="#333" stroke-width="1.55"/>
<line x1="414.3" y1="258.9" x2="417.1" y2="258.9" stroke="#333" stroke-width="1.3"/>
<text x="408.62" y="261.7" font-size="8.3" textLength="4.38" lengthAdjust="spacingAndGlyphs" stroke="#111" stroke-width="0.22">0</text>
<line x1="414.3" y1="236.67" x2="417.1" y2="236.67" stroke="#333" stroke-width="1.3"/>
<text x="408.62" y="239.47" font-size="8.3" textLength="4.38" lengthAdjust="spacingAndGlyphs" stroke="#111" stroke-width="0.22">1</text>
<line x1="414.3" y1="214.45" x2="417.1" y2="214.45" stroke="#333" stroke-width="1.3"/>
<text x="408.62" y="217.25" font-size="8.3" textLength="4.38" lengthAdjust="spacingAndGlyphs" stroke="#111" stroke-width="0.22">2</text>
<line x1="414.3" y1="192.22" x2="417.1" y2="192.22" stroke="#333" stroke-width="1.3"/>
<text x="408.62" y="195.03" font-size="8.3" textLength="4.38" lengthAdjust="spacingAndGlyphs" stroke="#111" stroke-width="0.22">3</text>
<line x1="414.3" y1="170" x2="417.1" y2="170" stroke="#333" stroke-width="1.3"/>
<text x="408.62" y="172.8" font-size="8.3" textLength="4.38" lengthAdjust="spacingAndGlyphs" stroke="#111" stroke-width="0.22">4</text>
<line x1="416.4" y1="258.9" x2="506.3" y2="258.9" stroke="#333" stroke-width="1.55"/>
<line x1="417.1" y1="258.9" x2="417.1" y2="261.5" stroke="#333" stroke-width="1.3"/>
<text x="414.91" y="271.2" font-size="8.3" textLength="4.38" lengthAdjust="spacingAndGlyphs" stroke="#111" stroke-width="0.22">0</text>
<line x1="448.5" y1="258.9" x2="448.5" y2="261.5" stroke="#333" stroke-width="1.3"/>
<text x="446.31" y="271.2" font-size="8.3" textLength="4.38" lengthAdjust="spacingAndGlyphs" stroke="#111" stroke-width="0.22">7</text>
<line x1="479.2" y1="258.9" x2="479.2" y2="261.5" stroke="#333" stroke-width="1.3"/>
<text x="474.82" y="271.2" font-size="8.3" textLength="8.77" lengthAdjust="spacingAndGlyphs" stroke="#111" stroke-width="0.22">14</text>
<line x1="505.5" y1="258.9" x2="505.5" y2="261.5" stroke="#333" stroke-width="1.3"/>
<text x="501.12" y="271.2" font-size="8.3" textLength="8.77" lengthAdjust="spacingAndGlyphs" stroke="#111" stroke-width="0.22">20</text>
<text x="451.95" y="284.8" font-size="8.6" textLength="18.9" lengthAdjust="spacingAndGlyphs" stroke="#111" stroke-width="0.36">Weeks</text>
<text x="375.8" y="214.4" font-size="8.4" textLength="53.6" lengthAdjust="spacingAndGlyphs" stroke="#111" stroke-width="0.36" transform="rotate(-90 402.6 214.4)">NK cells / &#181;l (x10<tspan font-size="5" dy="-2.6">2</tspan><tspan dy="2.6">)</tspan></text>
<polyline points="417.1,258.9 448.5,258.9 479.2,203.56 505.5,214.67" fill="none" stroke="#185591" stroke-width="1.2"/>
<line x1="479.2" y1="189.5" x2="479.2" y2="200.26" stroke="#185591" stroke-width="1.1"/>
<line x1="479.2" y1="206.86" x2="479.2" y2="216" stroke="#185591" stroke-width="1.1"/>
<line x1="476.15" y1="189.5" x2="482.25" y2="189.5" stroke="#185591" stroke-width="1.1"/>
<line x1="476.15" y1="216" x2="482.25" y2="216" stroke="#185591" stroke-width="1.1"/>
<line x1="505.5" y1="195.8" x2="505.5" y2="211.37" stroke="#185591" stroke-width="1.1"/>
<line x1="505.5" y1="217.97" x2="505.5" y2="234.5" stroke="#185591" stroke-width="1.1"/>
<line x1="502.45" y1="195.8" x2="508.55" y2="195.8" stroke="#185591" stroke-width="1.1"/>
<line x1="502.45" y1="234.5" x2="508.55" y2="234.5" stroke="#185591" stroke-width="1.1"/>
<circle cx="417.1" cy="258.9" r="3.25" fill="none" stroke="#185591" stroke-width="1.2"/>
<circle cx="448.5" cy="258.9" r="3.25" fill="none" stroke="#185591" stroke-width="1.2"/>
<circle cx="479.2" cy="203.56" r="3.25" fill="none" stroke="#185591" stroke-width="1.2"/>
<circle cx="505.5" cy="214.67" r="3.25" fill="none" stroke="#185591" stroke-width="1.2"/>
<polyline points="417.1,258.9 448.5,247.79 479.2,230.67 505.5,224.67" fill="none" stroke="#cc1b37" stroke-width="1.2"/>
<line x1="448.5" y1="236" x2="448.5" y2="244.49" stroke="#cc1b37" stroke-width="1.1"/>
<line x1="448.5" y1="251.09" x2="448.5" y2="258.7" stroke="#cc1b37" stroke-width="1.1"/>
<line x1="445.45" y1="236" x2="451.55" y2="236" stroke="#cc1b37" stroke-width="1.1"/>
<line x1="445.45" y1="258.7" x2="451.55" y2="258.7" stroke="#cc1b37" stroke-width="1.1"/>
<line x1="479.2" y1="216" x2="479.2" y2="227.37" stroke="#cc1b37" stroke-width="1.1"/>
<line x1="479.2" y1="233.97" x2="479.2" y2="244.5" stroke="#cc1b37" stroke-width="1.1"/>
<line x1="476.15" y1="216" x2="482.25" y2="216" stroke="#cc1b37" stroke-width="1.1"/>
<line x1="476.15" y1="244.5" x2="482.25" y2="244.5" stroke="#cc1b37" stroke-width="1.1"/>
<line x1="505.5" y1="201" x2="505.5" y2="221.37" stroke="#cc1b37" stroke-width="1.1"/>
<line x1="505.5" y1="227.97" x2="505.5" y2="247.5" stroke="#cc1b37" stroke-width="1.1"/>
<line x1="502.45" y1="201" x2="508.55" y2="201" stroke="#cc1b37" stroke-width="1.1"/>
<line x1="502.45" y1="247.5" x2="508.55" y2="247.5" stroke="#cc1b37" stroke-width="1.1"/>
<circle cx="417.1" cy="258.9" r="3.25" fill="none" stroke="#cc1b37" stroke-width="1.2"/>
<circle cx="448.5" cy="247.79" r="3.25" fill="none" stroke="#cc1b37" stroke-width="1.2"/>
<circle cx="479.2" cy="230.67" r="3.25" fill="none" stroke="#cc1b37" stroke-width="1.2"/>
<circle cx="505.5" cy="224.67" r="3.25" fill="none" stroke="#cc1b37" stroke-width="1.2"/>
<line x1="423.6" y1="172.8" x2="434" y2="172.8" stroke="#cc1b37" stroke-width="1.1"/>
<circle cx="428.8" cy="172.8" r="3.1" fill="none" stroke="#cc1b37" stroke-width="1.15"/>
<text x="439.3" y="175.8" font-size="8.2" textLength="15.8" lengthAdjust="spacingAndGlyphs" stroke="#111" stroke-width="0.33">ADA2</text>
<line x1="423.6" y1="183.6" x2="434" y2="183.6" stroke="#185591" stroke-width="1.1"/>
<circle cx="428.8" cy="183.6" r="3.1" fill="none" stroke="#185591" stroke-width="1.15"/>
<text x="439.3" y="186.6" font-size="8.2" textLength="12.5" lengthAdjust="spacingAndGlyphs" stroke="#111" stroke-width="0.33">GFP</text>
<text x="6.8" y="307.2" font-size="10" font-weight="bold" stroke="#111" stroke-width="0.6">D</text>
<line x1="46.2" y1="310.7" x2="46.2" y2="416.65" stroke="#333" stroke-width="1.55"/>
<line x1="43.2" y1="415.95" x2="46.2" y2="415.95" stroke="#333" stroke-width="1.3"/>
<text x="37.58" y="418.85" font-size="8.2" textLength="4.42" lengthAdjust="spacingAndGlyphs" stroke="#111" stroke-width="0.12">0</text>
<line x1="43.2" y1="389.81" x2="46.2" y2="389.81" stroke="#333" stroke-width="1.3"/>
<text x="33.15" y="392.71" font-size="8.2" textLength="8.85" lengthAdjust="spacingAndGlyphs" stroke="#111" stroke-width="0.12">10</text>
<line x1="43.2" y1="363.67" x2="46.2" y2="363.67" stroke="#333" stroke-width="1.3"/>
<text x="33.15" y="366.57" font-size="8.2" textLength="8.85" lengthAdjust="spacingAndGlyphs" stroke="#111" stroke-width="0.12">20</text>
<line x1="43.2" y1="337.54" x2="46.2" y2="337.54" stroke="#333" stroke-width="1.3"/>
<text x="33.15" y="340.44" font-size="8.2" textLength="8.85" lengthAdjust="spacingAndGlyphs" stroke="#111" stroke-width="0.12">30</text>
<line x1="43.2" y1="311.4" x2="46.2" y2="311.4" stroke="#333" stroke-width="1.3"/>
<text x="33.15" y="314.3" font-size="8.2" textLength="8.85" lengthAdjust="spacingAndGlyphs" stroke="#111" stroke-width="0.12">40</text>
<line x1="45.5" y1="415.95" x2="135.7" y2="415.95" stroke="#333" stroke-width="1.55"/>
<line x1="66" y1="415.95" x2="66" y2="418.55" stroke="#333" stroke-width="1.3"/>
<text x="58.2" y="430.2" font-size="8.6" textLength="15.6" lengthAdjust="spacingAndGlyphs" stroke="#111" stroke-width="0.32">ADA2</text>
<line x1="96.3" y1="415.95" x2="96.3" y2="418.55" stroke="#333" stroke-width="1.3"/>
<text x="90.3" y="430.2" font-size="8.6" textLength="12" lengthAdjust="spacingAndGlyphs" stroke="#111" stroke-width="0.32">GFP</text>
<text x="13.7" y="364" font-size="8.4" textLength="28.6" lengthAdjust="spacingAndGlyphs" stroke="#111" stroke-width="0.36" transform="rotate(-90 28 364)">CD45 (%)</text>
<line x1="65.8" y1="362.1" x2="65.8" y2="404.8" stroke="#3a3a3a" stroke-width="1.2"/>
<line x1="60.7" y1="362.1" x2="70.9" y2="362.1" stroke="#3a3a3a" stroke-width="1.2"/>
<line x1="60.7" y1="404.8" x2="70.9" y2="404.8" stroke="#3a3a3a" stroke-width="1.2"/>
<line x1="56.4" y1="386.9" x2="75.2" y2="386.9" stroke="#3a3a3a" stroke-width="1.2"/>
<circle cx="66.2" cy="349.8" r="2.7" fill="none" stroke="#cc1b37" stroke-width="1.25"/>
<circle cx="65.6" cy="365.2" r="2.7" fill="none" stroke="#cc1b37" stroke-width="1.25"/>
<circle cx="61.2" cy="388.7" r="2.7" fill="none" stroke="#cc1b37" stroke-width="1.25"/>
<circle cx="71.3" cy="386.7" r="2.7" fill="none" stroke="#cc1b37" stroke-width="1.25"/>
<circle cx="65.6" cy="402.1" r="2.7" fill="none" stroke="#cc1b37" stroke-width="1.25"/>
<circle cx="66.2" cy="410.4" r="2.7" fill="none" stroke="#cc1b37" stroke-width="1.25"/>
<line x1="96.3" y1="389.8" x2="96.3" y2="408.7" stroke="#3a3a3a" stroke-width="1.2"/>
<line x1="91.2" y1="389.8" x2="101.4" y2="389.8" stroke="#3a3a3a" stroke-width="1.2"/>
<line x1="91.2" y1="408.7" x2="101.4" y2="408.7" stroke="#3a3a3a" stroke-width="1.2"/>
<line x1="86.9" y1="404.8" x2="105.7" y2="404.8" stroke="#3a3a3a" stroke-width="1.2"/>
<circle cx="92.5" cy="389" r="2.7" fill="none" stroke="#185591" stroke-width="1.25"/>
<circle cx="100.2" cy="389.4" r="2.7" fill="none" stroke="#185591" stroke-width="1.25"/>
<circle cx="96.3" cy="405" r="2.7" fill="none" stroke="#185591" stroke-width="1.25"/>
<circle cx="88.7" cy="408.8" r="2.7" fill="none" stroke="#185591" stroke-width="1.25"/>
<circle cx="104" cy="408.8" r="2.7" fill="none" stroke="#185591" stroke-width="1.25"/>
<circle cx="54.5" cy="314.3" r="2.5" fill="none" stroke="#cc1b37" stroke-width="1.2"/>
<text x="61.3" y="317.3" font-size="8.2" textLength="15.6" lengthAdjust="spacingAndGlyphs" stroke="#111" stroke-width="0.33">ADA2</text>
<circle cx="54.5" cy="323.8" r="2.5" fill="none" stroke="#185591" stroke-width="1.2"/>
<text x="61.3" y="326.8" font-size="8.2" textLength="12.5" lengthAdjust="spacingAndGlyphs" stroke="#111" stroke-width="0.33">GFP</text>
<line x1="164.4" y1="310.6" x2="164.4" y2="416.6" stroke="#333" stroke-width="1.55"/>
<line x1="161.4" y1="415.9" x2="164.4" y2="415.9" stroke="#333" stroke-width="1.3"/>
<text x="155.78" y="418.8" font-size="8.2" textLength="4.42" lengthAdjust="spacingAndGlyphs" stroke="#111" stroke-width="0.12">0</text>
<line x1="161.4" y1="381.03" x2="164.4" y2="381.03" stroke="#333" stroke-width="1.3"/>
<text x="155.78" y="383.93" font-size="8.2" textLength="4.42" lengthAdjust="spacingAndGlyphs" stroke="#111" stroke-width="0.12">5</text>
<line x1="161.4" y1="346.17" x2="164.4" y2="346.17" stroke="#333" stroke-width="1.3"/>
<text x="151.35" y="349.07" font-size="8.2" textLength="8.85" lengthAdjust="spacingAndGlyphs" stroke="#111" stroke-width="0.12">10</text>
<line x1="161.4" y1="311.3" x2="164.4" y2="311.3" stroke="#333" stroke-width="1.3"/>
<text x="151.35" y="314.2" font-size="8.2" textLength="8.85" lengthAdjust="spacingAndGlyphs" stroke="#111" stroke-width="0.12">15</text>
<line x1="163.7" y1="415.9" x2="253.8" y2="415.9" stroke="#333" stroke-width="1.55"/>
<line x1="184.4" y1="415.9" x2="184.4" y2="418.5" stroke="#333" stroke-width="1.3"/>
<text x="176.6" y="430.2" font-size="8.6" textLength="15.6" lengthAdjust="spacingAndGlyphs" stroke="#111" stroke-width="0.32">ADA2</text>
<line x1="214.7" y1="415.9" x2="214.7" y2="418.5" stroke="#333" stroke-width="1.3"/>
<text x="208.7" y="430.2" font-size="8.6" textLength="12" lengthAdjust="spacingAndGlyphs" stroke="#111" stroke-width="0.32">GFP</text>
<text x="116.75" y="364.6" font-size="8.4" textLength="55.3" lengthAdjust="spacingAndGlyphs" stroke="#111" stroke-width="0.36" transform="rotate(-90 144.4 364.6)">HSPC counts (x10<tspan font-size="5" dy="-2.6">4</tspan><tspan dy="2.6">)</tspan></text>
<line x1="184.5" y1="367" x2="184.5" y2="401" stroke="#3a3a3a" stroke-width="1.2"/>
<line x1="179.5" y1="367" x2="189.5" y2="367" stroke="#3a3a3a" stroke-width="1.2"/>
<line x1="179.5" y1="401" x2="189.5" y2="401" stroke="#3a3a3a" stroke-width="1.2"/>
<line x1="174.5" y1="394.1" x2="194.5" y2="394.1" stroke="#3a3a3a" stroke-width="1.2"/>
<circle cx="184.4" cy="330.9" r="2.7" fill="none" stroke="#cc1b37" stroke-width="1.25"/>
<circle cx="184.4" cy="378.8" r="2.7" fill="none" stroke="#cc1b37" stroke-width="1.25"/>
<circle cx="179.2" cy="393.6" r="2.7" fill="none" stroke="#cc1b37" stroke-width="1.25"/>
<circle cx="190.1" cy="393.1" r="2.7" fill="none" stroke="#cc1b37" stroke-width="1.25"/>
<circle cx="179.7" cy="401.3" r="2.7" fill="none" stroke="#cc1b37" stroke-width="1.25"/>
<circle cx="189.6" cy="401.3" r="2.7" fill="none" stroke="#cc1b37" stroke-width="1.25"/>
<line x1="214.7" y1="389.2" x2="214.7" y2="410" stroke="#3a3a3a" stroke-width="1.2"/>
<line x1="209.7" y1="389.2" x2="219.7" y2="389.2" stroke="#3a3a3a" stroke-width="1.2"/>
<line x1="209.7" y1="410" x2="219.7" y2="410" stroke="#3a3a3a" stroke-width="1.2"/>
<line x1="204.2" y1="398.9" x2="225.2" y2="398.9" stroke="#3a3a3a" stroke-width="1.2"/>
<circle cx="214.7" cy="362.5" r="2.7" fill="none" stroke="#185591" stroke-width="1.25"/>
<circle cx="211.6" cy="388.9" r="2.7" fill="none" stroke="#185591" stroke-width="1.25"/>
<circle cx="218.6" cy="388.9" r="2.7" fill="none" stroke="#185591" stroke-width="1.25"/>
<circle cx="206.6" cy="399.3" r="2.7" fill="none" stroke="#185591" stroke-width="1.25"/>
<circle cx="214.7" cy="398.2" r="2.7" fill="none" stroke="#185591" stroke-width="1.25"/>
<circle cx="222.4" cy="399.3" r="2.7" fill="none" stroke="#185591" stroke-width="1.25"/>
<circle cx="211" cy="409.6" r="2.7" fill="none" stroke="#185591" stroke-width="1.25"/>
<circle cx="218.6" cy="409.6" r="2.7" fill="none" stroke="#185591" stroke-width="1.25"/>
<circle cx="173" cy="314.1" r="2.5" fill="none" stroke="#cc1b37" stroke-width="1.2"/>
<text x="179.7" y="317.1" font-size="8.2" textLength="15.6" lengthAdjust="spacingAndGlyphs" stroke="#111" stroke-width="0.33">ADA2</text>
<circle cx="173" cy="324" r="2.5" fill="none" stroke="#185591" stroke-width="1.2"/>
<text x="179.7" y="327" font-size="8.2" textLength="12.5" lengthAdjust="spacingAndGlyphs" stroke="#111" stroke-width="0.33">GFP</text>
<line x1="313.9" y1="310.6" x2="313.9" y2="416.6" stroke="#333" stroke-width="1.55"/>
<line x1="310.9" y1="415.9" x2="313.9" y2="415.9" stroke="#333" stroke-width="1.3"/>
<text x="305.28" y="418.8" font-size="8.2" textLength="4.42" lengthAdjust="spacingAndGlyphs" stroke="#111" stroke-width="0.12">0</text>
<line x1="310.9" y1="389.75" x2="313.9" y2="389.75" stroke="#333" stroke-width="1.3"/>
<text x="300.85" y="392.65" font-size="8.2" textLength="8.85" lengthAdjust="spacingAndGlyphs" stroke="#111" stroke-width="0.12">10</text>
<line x1="310.9" y1="363.6" x2="313.9" y2="363.6" stroke="#333" stroke-width="1.3"/>
<text x="300.85" y="366.5" font-size="8.2" textLength="8.85" lengthAdjust="spacingAndGlyphs" stroke="#111" stroke-width="0.12">20</text>
<line x1="310.9" y1="337.45" x2="313.9" y2="337.45" stroke="#333" stroke-width="1.3"/>
<text x="300.85" y="340.35" font-size="8.2" textLength="8.85" lengthAdjust="spacingAndGlyphs" stroke="#111" stroke-width="0.12">30</text>
<line x1="310.9" y1="311.3" x2="313.9" y2="311.3" stroke="#333" stroke-width="1.3"/>
<text x="300.85" y="314.2" font-size="8.2" textLength="8.85" lengthAdjust="spacingAndGlyphs" stroke="#111" stroke-width="0.12">40</text>
<line x1="313.2" y1="415.9" x2="462.1" y2="415.9" stroke="#333" stroke-width="1.55"/>
<line x1="330.5" y1="415.9" x2="330.5" y2="418.5" stroke="#333" stroke-width="1.3"/>
<text x="324.7" y="430.2" font-size="8.6" textLength="11.6" lengthAdjust="spacingAndGlyphs" stroke="#111" stroke-width="0.32">HSC</text>
<line x1="368.3" y1="415.9" x2="368.3" y2="418.5" stroke="#333" stroke-width="1.3"/>
<text x="361.4" y="430.2" font-size="8.6" textLength="13.8" lengthAdjust="spacingAndGlyphs" stroke="#111" stroke-width="0.32">MPP</text>
<line x1="408.3" y1="415.9" x2="408.3" y2="418.5" stroke="#333" stroke-width="1.3"/>
<text x="402" y="430.2" font-size="8.6" textLength="12.6" lengthAdjust="spacingAndGlyphs" stroke="#111" stroke-width="0.32">MLP</text>
<line x1="446.8" y1="415.9" x2="446.8" y2="418.5" stroke="#333" stroke-width="1.3"/>
<text x="440.3" y="430.2" font-size="8.6" textLength="13" lengthAdjust="spacingAndGlyphs" stroke="#111" stroke-width="0.32">MEP</text>
<text x="262.65" y="364.2" font-size="8.4" textLength="64.3" lengthAdjust="spacingAndGlyphs" stroke="#111" stroke-width="0.36" transform="rotate(-90 294.8 364.2)">Total cell counts (x10<tspan font-size="5" dy="-2.6">3</tspan><tspan dy="2.6">)</tspan></text>
<line x1="323.5" y1="389.5" x2="323.5" y2="413" stroke="#3a3a3a" stroke-width="1.2"/>
<line x1="320.5" y1="389.5" x2="326.5" y2="389.5" stroke="#3a3a3a" stroke-width="1.2"/>
<line x1="320.5" y1="413" x2="326.5" y2="413" stroke="#3a3a3a" stroke-width="1.2"/>
<line x1="317.9" y1="406.5" x2="329.1" y2="406.5" stroke="#3a3a3a" stroke-width="1.2"/>
<circle cx="323.8" cy="350.8" r="1.95" fill="none" stroke="#cc1b37" stroke-width="1.1"/>
<circle cx="323.5" cy="390.8" r="1.95" fill="none" stroke="#cc1b37" stroke-width="1.1"/>
<circle cx="322" cy="401.5" r="1.95" fill="none" stroke="#cc1b37" stroke-width="1.1"/>
<circle cx="326.6" cy="404.6" r="1.95" fill="none" stroke="#cc1b37" stroke-width="1.1"/>
<circle cx="321.1" cy="407.7" r="1.95" fill="none" stroke="#cc1b37" stroke-width="1.1"/>
<circle cx="326.6" cy="413.1" r="1.95" fill="none" stroke="#cc1b37" stroke-width="1.1"/>
<circle cx="322" cy="415.4" r="1.95" fill="none" stroke="#cc1b37" stroke-width="1.1"/>
<line x1="338" y1="383" x2="338" y2="415.4" stroke="#3a3a3a" stroke-width="1.2"/>
<line x1="335" y1="383" x2="341" y2="383" stroke="#3a3a3a" stroke-width="1.2"/>
<line x1="335" y1="415.4" x2="341" y2="415.4" stroke="#3a3a3a" stroke-width="1.2"/>
<line x1="332.4" y1="415.4" x2="343.6" y2="415.4" stroke="#3a3a3a" stroke-width="1.2"/>
<circle cx="336.9" cy="383.1" r="1.95" fill="none" stroke="#185591" stroke-width="1.1"/>
<circle cx="339.5" cy="382.3" r="1.95" fill="none" stroke="#185591" stroke-width="1.1"/>
<circle cx="336.2" cy="415.1" r="1.95" fill="none" stroke="#185591" stroke-width="1.1"/>
<circle cx="339.2" cy="415.4" r="1.95" fill="none" stroke="#185591" stroke-width="1.1"/>
<circle cx="340.8" cy="415.4" r="1.95" fill="none" stroke="#185591" stroke-width="1.1"/>
<line x1="362.3" y1="403.4" x2="362.3" y2="415.4" stroke="#3a3a3a" stroke-width="1.2"/>
<line x1="359.3" y1="403.4" x2="365.3" y2="403.4" stroke="#3a3a3a" stroke-width="1.2"/>
<line x1="359.3" y1="415.4" x2="365.3" y2="415.4" stroke="#3a3a3a" stroke-width="1.2"/>
<line x1="356.7" y1="412.3" x2="367.9" y2="412.3" stroke="#3a3a3a" stroke-width="1.2"/>
<circle cx="362.3" cy="399.7" r="1.95" fill="none" stroke="#cc1b37" stroke-width="1.1"/>
<circle cx="362" cy="405.4" r="1.95" fill="none" stroke="#cc1b37" stroke-width="1.1"/>
<circle cx="360.8" cy="411.1" r="1.95" fill="none" stroke="#cc1b37" stroke-width="1.1"/>
<circle cx="363.8" cy="412.3" r="1.95" fill="none" stroke="#cc1b37" stroke-width="1.1"/>
<circle cx="358.5" cy="415.4" r="1.95" fill="none" stroke="#cc1b37" stroke-width="1.1"/>
<circle cx="365.4" cy="415.4" r="1.95" fill="none" stroke="#cc1b37" stroke-width="1.1"/>
<line x1="376.5" y1="402.8" x2="376.5" y2="415.4" stroke="#3a3a3a" stroke-width="1.2"/>
<line x1="373.5" y1="402.8" x2="379.5" y2="402.8" stroke="#3a3a3a" stroke-width="1.2"/>
<line x1="373.5" y1="415.4" x2="379.5" y2="415.4" stroke="#3a3a3a" stroke-width="1.2"/>
<line x1="370.9" y1="411.5" x2="382.1" y2="411.5" stroke="#3a3a3a" stroke-width="1.2"/>
<circle cx="376.9" cy="399.2" r="1.95" fill="none" stroke="#185591" stroke-width="1.1"/>
<circle cx="373.8" cy="403.4" r="1.95" fill="none" stroke="#185591" stroke-width="1.1"/>
<circle cx="376.9" cy="408" r="1.95" fill="none" stroke="#185591" stroke-width="1.1"/>
<circle cx="373.8" cy="415.4" r="1.95" fill="none" stroke="#185591" stroke-width="1.1"/>
<circle cx="379.2" cy="415.4" r="1.95" fill="none" stroke="#185591" stroke-width="1.1"/>
<line x1="400.7" y1="374.8" x2="400.7" y2="411" stroke="#3a3a3a" stroke-width="1.2"/>
<line x1="397.7" y1="374.8" x2="403.7" y2="374.8" stroke="#3a3a3a" stroke-width="1.2"/>
<line x1="397.7" y1="411" x2="403.7" y2="411" stroke="#3a3a3a" stroke-width="1.2"/>
<line x1="395.1" y1="397.2" x2="406.3" y2="397.2" stroke="#3a3a3a" stroke-width="1.2"/>
<circle cx="400.7" cy="367.5" r="1.95" fill="none" stroke="#cc1b37" stroke-width="1.1"/>
<circle cx="400.7" cy="377.5" r="1.95" fill="none" stroke="#cc1b37" stroke-width="1.1"/>
<circle cx="400.7" cy="387" r="1.95" fill="none" stroke="#cc1b37" stroke-width="1.1"/>
<circle cx="400.2" cy="407.1" r="1.95" fill="none" stroke="#cc1b37" stroke-width="1.1"/>
<circle cx="402.9" cy="409.3" r="1.95" fill="none" stroke="#cc1b37" stroke-width="1.1"/>
<circle cx="398.3" cy="412.5" r="1.95" fill="none" stroke="#cc1b37" stroke-width="1.1"/>
<line x1="415" y1="363.2" x2="415" y2="413.9" stroke="#3a3a3a" stroke-width="1.2"/>
<line x1="412" y1="363.2" x2="418" y2="363.2" stroke="#3a3a3a" stroke-width="1.2"/>
<line x1="412" y1="413.9" x2="418" y2="413.9" stroke="#3a3a3a" stroke-width="1.2"/>
<line x1="409.4" y1="409.8" x2="420.6" y2="409.8" stroke="#3a3a3a" stroke-width="1.2"/>
<circle cx="413.7" cy="363.2" r="1.95" fill="none" stroke="#185591" stroke-width="1.1"/>
<circle cx="416.3" cy="363.2" r="1.95" fill="none" stroke="#185591" stroke-width="1.1"/>
<circle cx="417.2" cy="407.7" r="1.95" fill="none" stroke="#185591" stroke-width="1.1"/>
<circle cx="411.8" cy="414.4" r="1.95" fill="none" stroke="#185591" stroke-width="1.1"/>
<circle cx="417.7" cy="413.3" r="1.95" fill="none" stroke="#185591" stroke-width="1.1"/>
<line x1="438.7" y1="357.3" x2="438.7" y2="415.7" stroke="#3a3a3a" stroke-width="1.2"/>
<line x1="435.7" y1="357.3" x2="441.7" y2="357.3" stroke="#3a3a3a" stroke-width="1.2"/>
<line x1="435.7" y1="415.7" x2="441.7" y2="415.7" stroke="#3a3a3a" stroke-width="1.2"/>
<line x1="433.1" y1="401.2" x2="444.3" y2="401.2" stroke="#3a3a3a" stroke-width="1.2"/>
<circle cx="438.7" cy="337.7" r="1.95" fill="none" stroke="#cc1b37" stroke-width="1.1"/>
<circle cx="438.7" cy="364.6" r="1.95" fill="none" stroke="#cc1b37" stroke-width="1.1"/>
<circle cx="436" cy="403.1" r="1.95" fill="none" stroke="#cc1b37" stroke-width="1.1"/>
<circle cx="441.4" cy="399.9" r="1.95" fill="none" stroke="#cc1b37" stroke-width="1.1"/>
<circle cx="435.2" cy="415.4" r="1.95" fill="none" stroke="#cc1b37" stroke-width="1.1"/>
<circle cx="441.4" cy="415.4" r="1.95" fill="none" stroke="#cc1b37" stroke-width="1.1"/>
<line x1="452.7" y1="397.7" x2="452.7" y2="415.4" stroke="#3a3a3a" stroke-width="1.2"/>
<line x1="449.7" y1="397.7" x2="455.7" y2="397.7" stroke="#3a3a3a" stroke-width="1.2"/>
<line x1="449.7" y1="415.4" x2="455.7" y2="415.4" stroke="#3a3a3a" stroke-width="1.2"/>
<line x1="447.1" y1="411.2" x2="458.3" y2="411.2" stroke="#3a3a3a" stroke-width="1.2"/>
<circle cx="452.7" cy="394.2" r="1.95" fill="none" stroke="#185591" stroke-width="1.1"/>
<circle cx="452.7" cy="399" r="1.95" fill="none" stroke="#185591" stroke-width="1.1"/>
<circle cx="452.7" cy="407.7" r="1.95" fill="none" stroke="#185591" stroke-width="1.1"/>
<circle cx="450.5" cy="414.4" r="1.95" fill="none" stroke="#185591" stroke-width="1.1"/>
<circle cx="456.2" cy="413.8" r="1.95" fill="none" stroke="#185591" stroke-width="1.1"/>
<circle cx="322.1" cy="313.8" r="2.2" fill="none" stroke="#cc1b37" stroke-width="1.2"/>
<text x="328.6" y="316.8" font-size="8.2" textLength="15.6" lengthAdjust="spacingAndGlyphs" stroke="#111" stroke-width="0.33">ADA2</text>
<circle cx="322.1" cy="323.9" r="2.2" fill="none" stroke="#185591" stroke-width="1.2"/>
<text x="328.6" y="326.9" font-size="8.2" textLength="12.5" lengthAdjust="spacingAndGlyphs" stroke="#111" stroke-width="0.33">GFP</text>
<line x1="45.9" y1="453" x2="45.9" y2="558.7" stroke="#333" stroke-width="1.55"/>
<line x1="42.7" y1="558" x2="45.9" y2="558" stroke="#333" stroke-width="1.3"/>
<text x="36.57" y="560.3" font-size="7.6" stroke="#111" stroke-width="0.15">0</text>
<line x1="42.7" y1="537.14" x2="45.9" y2="537.14" stroke="#333" stroke-width="1.3"/>
<text x="36.57" y="539.44" font-size="7.6" stroke="#111" stroke-width="0.15">2</text>
<line x1="42.7" y1="516.28" x2="45.9" y2="516.28" stroke="#333" stroke-width="1.3"/>
<text x="36.57" y="518.58" font-size="7.6" stroke="#111" stroke-width="0.15">4</text>
<line x1="42.7" y1="495.42" x2="45.9" y2="495.42" stroke="#333" stroke-width="1.3"/>
<text x="36.57" y="497.72" font-size="7.6" stroke="#111" stroke-width="0.15">6</text>
<line x1="42.7" y1="474.56" x2="45.9" y2="474.56" stroke="#333" stroke-width="1.3"/>
<text x="36.57" y="476.86" font-size="7.6" stroke="#111" stroke-width="0.15">8</text>
<line x1="42.7" y1="453.7" x2="45.9" y2="453.7" stroke="#333" stroke-width="1.3"/>
<text x="32.35" y="456" font-size="7.6" stroke="#111" stroke-width="0.15">10</text>
<line x1="45.2" y1="558" x2="135.7" y2="558" stroke="#333" stroke-width="1.55"/>
<line x1="61.7" y1="558" x2="61.7" y2="560.6" stroke="#333" stroke-width="1.3"/>
<text x="52.81" y="573.4" font-size="8" stroke="#111" stroke-width="0.22">CMP</text>
<line x1="99.9" y1="558" x2="99.9" y2="560.6" stroke="#333" stroke-width="1.3"/>
<text x="90.79" y="573.4" font-size="8" stroke="#111" stroke-width="0.22">GMP</text>
<text x="-3.05" y="506.7" font-size="8.4" textLength="63.3" lengthAdjust="spacingAndGlyphs" stroke="#111" stroke-width="0.36" transform="rotate(-90 28.6 506.7)">Total cell counts (x10<tspan font-size="5" dy="-2.6">4</tspan><tspan dy="2.6">)</tspan></text>
<line x1="54.5" y1="537.6" x2="54.5" y2="557.9" stroke="#3a3a3a" stroke-width="1.2"/>
<line x1="51.9" y1="537.6" x2="57.1" y2="537.6" stroke="#3a3a3a" stroke-width="1.2"/>
<line x1="51.9" y1="557.9" x2="57.1" y2="557.9" stroke="#3a3a3a" stroke-width="1.2"/>
<line x1="50.2" y1="542" x2="58.8" y2="542" stroke="#3a3a3a" stroke-width="1.2"/>
<circle cx="54.6" cy="533.5" r="2.1" fill="none" stroke="#cc1b37" stroke-width="1.1"/>
<circle cx="52.3" cy="539.4" r="2.1" fill="none" stroke="#cc1b37" stroke-width="1.1"/>
<circle cx="57.1" cy="541.5" r="2.1" fill="none" stroke="#cc1b37" stroke-width="1.1"/>
<circle cx="52.8" cy="545" r="2.1" fill="none" stroke="#cc1b37" stroke-width="1.1"/>
<circle cx="57.4" cy="554.9" r="2.1" fill="none" stroke="#cc1b37" stroke-width="1.1"/>
<circle cx="52.6" cy="557.8" r="2.1" fill="none" stroke="#cc1b37" stroke-width="1.1"/>
<line x1="69" y1="555.2" x2="69" y2="557.9" stroke="#3a3a3a" stroke-width="1.2"/>
<line x1="66.4" y1="555.2" x2="71.6" y2="555.2" stroke="#3a3a3a" stroke-width="1.2"/>
<line x1="66.4" y1="557.9" x2="71.6" y2="557.9" stroke="#3a3a3a" stroke-width="1.2"/>
<line x1="64.7" y1="555.2" x2="73.3" y2="555.2" stroke="#3a3a3a" stroke-width="1.2"/>
<circle cx="67" cy="541.9" r="2.1" fill="none" stroke="#185591" stroke-width="1.1"/>
<circle cx="69.4" cy="546.3" r="2.1" fill="none" stroke="#185591" stroke-width="1.1"/>
<circle cx="66.5" cy="552.5" r="2.1" fill="none" stroke="#185591" stroke-width="1.1"/>
<circle cx="66.1" cy="558" r="2.1" fill="none" stroke="#185591" stroke-width="1.1"/>
<circle cx="71.3" cy="558" r="2.1" fill="none" stroke="#185591" stroke-width="1.1"/>
<line x1="92.6" y1="508" x2="92.6" y2="550.6" stroke="#3a3a3a" stroke-width="1.2"/>
<line x1="90.1" y1="508" x2="95.1" y2="508" stroke="#3a3a3a" stroke-width="1.2"/>
<line x1="90.1" y1="550.6" x2="95.1" y2="550.6" stroke="#3a3a3a" stroke-width="1.2"/>
<line x1="88.2" y1="525.7" x2="97" y2="525.7" stroke="#3a3a3a" stroke-width="1.2"/>
<circle cx="92.1" cy="478.4" r="2.1" fill="none" stroke="#cc1b37" stroke-width="1.1"/>
<circle cx="90.4" cy="518.9" r="2.1" fill="none" stroke="#cc1b37" stroke-width="1.1"/>
<circle cx="94.5" cy="519.2" r="2.1" fill="none" stroke="#cc1b37" stroke-width="1.1"/>
<circle cx="92.1" cy="533" r="2.1" fill="none" stroke="#cc1b37" stroke-width="1.1"/>
<circle cx="94.5" cy="549.5" r="2.1" fill="none" stroke="#cc1b37" stroke-width="1.1"/>
<circle cx="90" cy="554.4" r="2.1" fill="none" stroke="#cc1b37" stroke-width="1.1"/>
<line x1="107" y1="527.5" x2="107" y2="557.9" stroke="#3a3a3a" stroke-width="1.2"/>
<line x1="104.4" y1="527.5" x2="109.6" y2="527.5" stroke="#3a3a3a" stroke-width="1.2"/>
<line x1="104.4" y1="557.9" x2="109.6" y2="557.9" stroke="#3a3a3a" stroke-width="1.2"/>
<line x1="102.8" y1="551" x2="111.2" y2="551" stroke="#3a3a3a" stroke-width="1.2"/>
<circle cx="106.4" cy="521.2" r="2.1" fill="none" stroke="#185591" stroke-width="1.1"/>
<circle cx="106.4" cy="530.6" r="2.1" fill="none" stroke="#185591" stroke-width="1.1"/>
<circle cx="106.4" cy="547.7" r="2.1" fill="none" stroke="#185591" stroke-width="1.1"/>
<circle cx="106.4" cy="553.9" r="2.1" fill="none" stroke="#185591" stroke-width="1.1"/>
<circle cx="103.8" cy="557.5" r="2.1" fill="none" stroke="#185591" stroke-width="1.1"/>
<circle cx="109" cy="557.5" r="2.1" fill="none" stroke="#185591" stroke-width="1.1"/>
<circle cx="52.8" cy="456.5" r="2" fill="none" stroke="#cc1b37" stroke-width="1.2"/>
<text x="61.3" y="459.5" font-size="8.2" textLength="15.6" lengthAdjust="spacingAndGlyphs" stroke="#111" stroke-width="0.33">ADA2</text>
<circle cx="52.8" cy="466" r="2" fill="none" stroke="#185591" stroke-width="1.2"/>
<text x="61.3" y="469" font-size="8.2" textLength="12.5" lengthAdjust="spacingAndGlyphs" stroke="#111" stroke-width="0.33">GFP</text>
<line x1="159.3" y1="453" x2="159.3" y2="558.7" stroke="#333" stroke-width="1.55"/>
<line x1="156.1" y1="558" x2="159.3" y2="558" stroke="#333" stroke-width="1.3"/>
<text x="149.97" y="560.3" font-size="7.6" stroke="#111" stroke-width="0.15">0</text>
<line x1="156.1" y1="537.14" x2="159.3" y2="537.14" stroke="#333" stroke-width="1.3"/>
<text x="149.97" y="539.44" font-size="7.6" stroke="#111" stroke-width="0.15">1</text>
<line x1="156.1" y1="516.28" x2="159.3" y2="516.28" stroke="#333" stroke-width="1.3"/>
<text x="149.97" y="518.58" font-size="7.6" stroke="#111" stroke-width="0.15">2</text>
<line x1="156.1" y1="495.42" x2="159.3" y2="495.42" stroke="#333" stroke-width="1.3"/>
<text x="149.97" y="497.72" font-size="7.6" stroke="#111" stroke-width="0.15">3</text>
<line x1="156.1" y1="474.56" x2="159.3" y2="474.56" stroke="#333" stroke-width="1.3"/>
<text x="149.97" y="476.86" font-size="7.6" stroke="#111" stroke-width="0.15">4</text>
<line x1="156.1" y1="453.7" x2="159.3" y2="453.7" stroke="#333" stroke-width="1.3"/>
<text x="149.97" y="456" font-size="7.6" stroke="#111" stroke-width="0.15">5</text>
<line x1="235.1" y1="453" x2="235.1" y2="558.7" stroke="#333" stroke-width="1.55"/>
<line x1="235.1" y1="558" x2="238.3" y2="558" stroke="#333" stroke-width="1.3"/>
<text x="240.2" y="560.3" font-size="7.6" stroke="#111" stroke-width="0.15">0.0</text>
<line x1="235.1" y1="531.92" x2="238.3" y2="531.92" stroke="#333" stroke-width="1.3"/>
<text x="240.2" y="534.22" font-size="7.6" stroke="#111" stroke-width="0.15">0.5</text>
<line x1="235.1" y1="505.85" x2="238.3" y2="505.85" stroke="#333" stroke-width="1.3"/>
<text x="240.2" y="508.15" font-size="7.6" stroke="#111" stroke-width="0.15">1.0</text>
<line x1="235.1" y1="479.77" x2="238.3" y2="479.77" stroke="#333" stroke-width="1.3"/>
<text x="240.2" y="482.07" font-size="7.6" stroke="#111" stroke-width="0.15">1.5</text>
<line x1="235.1" y1="453.7" x2="238.3" y2="453.7" stroke="#333" stroke-width="1.3"/>
<text x="240.2" y="456" font-size="7.6" stroke="#111" stroke-width="0.15">2.0</text>
<line x1="158.6" y1="558" x2="235.1" y2="558" stroke="#333" stroke-width="1.55"/>
<line x1="177.1" y1="558" x2="177.1" y2="560.6" stroke="#333" stroke-width="1.3"/>
<text x="166.87" y="573.4" font-size="8" stroke="#111" stroke-width="0.22">CD19</text>
<line x1="217" y1="558" x2="217" y2="560.6" stroke="#333" stroke-width="1.3"/>
<text x="209" y="573.4" font-size="8" stroke="#111" stroke-width="0.22">CD3</text>
<line x1="197.4" y1="458.45" x2="197.4" y2="557.5" stroke="#111" stroke-width="1.35" stroke-dasharray="2.0,2.05"/>
<text x="111.55" y="506.7" font-size="8.4" textLength="63.3" lengthAdjust="spacingAndGlyphs" stroke="#111" stroke-width="0.36" transform="rotate(-90 143.2 506.7)">Total cell counts (x10<tspan font-size="5" dy="-2.6">3</tspan><tspan dy="2.6">)</tspan></text>
<text x="226.85" y="505.8" font-size="8.4" textLength="63.5" lengthAdjust="spacingAndGlyphs" stroke="#111" stroke-width="0.36" transform="rotate(90 258.6 505.8)">Total cell counts (x10<tspan font-size="5" dy="-2.6">3</tspan><tspan dy="2.6">)</tspan></text>
<line x1="169.9" y1="478.9" x2="169.9" y2="536.8" stroke="#3a3a3a" stroke-width="1.2"/>
<line x1="167.3" y1="478.9" x2="172.5" y2="478.9" stroke="#3a3a3a" stroke-width="1.2"/>
<line x1="167.3" y1="536.8" x2="172.5" y2="536.8" stroke="#3a3a3a" stroke-width="1.2"/>
<line x1="165.6" y1="524.7" x2="174.2" y2="524.7" stroke="#3a3a3a" stroke-width="1.2"/>
<circle cx="169.9" cy="472.5" r="2.1" fill="none" stroke="#cc1b37" stroke-width="1.1"/>
<circle cx="169.9" cy="481" r="2.1" fill="none" stroke="#cc1b37" stroke-width="1.1"/>
<circle cx="169.9" cy="521.4" r="2.1" fill="none" stroke="#cc1b37" stroke-width="1.1"/>
<circle cx="169.9" cy="527.3" r="2.1" fill="none" stroke="#cc1b37" stroke-width="1.1"/>
<circle cx="169.9" cy="533" r="2.1" fill="none" stroke="#cc1b37" stroke-width="1.1"/>
<circle cx="169.9" cy="553" r="2.1" fill="none" stroke="#cc1b37" stroke-width="1.1"/>
<line x1="184" y1="511.1" x2="184" y2="550.2" stroke="#3a3a3a" stroke-width="1.2"/>
<line x1="181.4" y1="511.1" x2="186.6" y2="511.1" stroke="#3a3a3a" stroke-width="1.2"/>
<line x1="181.4" y1="550.2" x2="186.6" y2="550.2" stroke="#3a3a3a" stroke-width="1.2"/>
<line x1="179.7" y1="532.4" x2="188.3" y2="532.4" stroke="#3a3a3a" stroke-width="1.2"/>
<circle cx="181.5" cy="511.1" r="2.1" fill="none" stroke="#185591" stroke-width="1.1"/>
<circle cx="187.1" cy="511.1" r="2.1" fill="none" stroke="#185591" stroke-width="1.1"/>
<circle cx="184" cy="532.4" r="2.1" fill="none" stroke="#185591" stroke-width="1.1"/>
<circle cx="184" cy="547.1" r="2.1" fill="none" stroke="#185591" stroke-width="1.1"/>
<circle cx="184" cy="555.4" r="2.1" fill="none" stroke="#185591" stroke-width="1.1"/>
<line x1="209.8" y1="508.8" x2="209.8" y2="548.9" stroke="#3a3a3a" stroke-width="1.2"/>
<line x1="207.2" y1="508.8" x2="212.4" y2="508.8" stroke="#3a3a3a" stroke-width="1.2"/>
<line x1="207.2" y1="548.9" x2="212.4" y2="548.9" stroke="#3a3a3a" stroke-width="1.2"/>
<line x1="205.5" y1="533.7" x2="214.1" y2="533.7" stroke="#3a3a3a" stroke-width="1.2"/>
<circle cx="209.8" cy="486.6" r="2.1" fill="none" stroke="#cc1b37" stroke-width="1.1"/>
<circle cx="209.8" cy="517" r="2.1" fill="none" stroke="#cc1b37" stroke-width="1.1"/>
<circle cx="209.8" cy="528.3" r="2.1" fill="none" stroke="#cc1b37" stroke-width="1.1"/>
<circle cx="209.8" cy="539.4" r="2.1" fill="none" stroke="#cc1b37" stroke-width="1.1"/>
<circle cx="209.8" cy="546.3" r="2.1" fill="none" stroke="#cc1b37" stroke-width="1.1"/>
<circle cx="209.8" cy="553.6" r="2.1" fill="none" stroke="#cc1b37" stroke-width="1.1"/>
<line x1="224.7" y1="508.8" x2="224.7" y2="555.5" stroke="#3a3a3a" stroke-width="1.2"/>
<line x1="222.1" y1="508.8" x2="227.3" y2="508.8" stroke="#3a3a3a" stroke-width="1.2"/>
<line x1="222.1" y1="555.5" x2="227.3" y2="555.5" stroke="#3a3a3a" stroke-width="1.2"/>
<line x1="220.4" y1="553" x2="229" y2="553" stroke="#3a3a3a" stroke-width="1.2"/>
<circle cx="224.7" cy="484" r="2.1" fill="none" stroke="#185591" stroke-width="1.1"/>
<circle cx="224.7" cy="533.7" r="2.1" fill="none" stroke="#185591" stroke-width="1.1"/>
<circle cx="224.7" cy="552.3" r="2.1" fill="none" stroke="#185591" stroke-width="1.1"/>
<circle cx="222.1" cy="557.4" r="2.1" fill="none" stroke="#185591" stroke-width="1.1"/>
<circle cx="227.8" cy="556.1" r="2.1" fill="none" stroke="#185591" stroke-width="1.1"/>
<circle cx="165.5" cy="456.3" r="2" fill="none" stroke="#cc1b37" stroke-width="1.2"/>
<text x="174.3" y="459.3" font-size="8.2" textLength="15.6" lengthAdjust="spacingAndGlyphs" stroke="#111" stroke-width="0.33">ADA2</text>
<circle cx="165.5" cy="466" r="2" fill="none" stroke="#185591" stroke-width="1.2"/>
<text x="174.3" y="469" font-size="8.2" textLength="12.5" lengthAdjust="spacingAndGlyphs" stroke="#111" stroke-width="0.33">GFP</text>
<line x1="313.9" y1="452.7" x2="313.9" y2="558.7" stroke="#333" stroke-width="1.55"/>
<line x1="310.7" y1="558" x2="313.9" y2="558" stroke="#333" stroke-width="1.3"/>
<text x="304.57" y="560.3" font-size="7.6" stroke="#111" stroke-width="0.15">0</text>
<line x1="310.7" y1="531.85" x2="313.9" y2="531.85" stroke="#333" stroke-width="1.3"/>
<text x="300.35" y="534.15" font-size="7.6" stroke="#111" stroke-width="0.15">10</text>
<line x1="310.7" y1="505.7" x2="313.9" y2="505.7" stroke="#333" stroke-width="1.3"/>
<text x="300.35" y="508" font-size="7.6" stroke="#111" stroke-width="0.15">20</text>
<line x1="310.7" y1="479.55" x2="313.9" y2="479.55" stroke="#333" stroke-width="1.3"/>
<text x="300.35" y="481.85" font-size="7.6" stroke="#111" stroke-width="0.15">30</text>
<line x1="310.7" y1="453.4" x2="313.9" y2="453.4" stroke="#333" stroke-width="1.3"/>
<text x="300.35" y="455.7" font-size="7.6" stroke="#111" stroke-width="0.15">40</text>
<line x1="313.2" y1="558" x2="385.7" y2="558" stroke="#333" stroke-width="1.55"/>
<line x1="329.5" y1="558" x2="329.5" y2="560.6" stroke="#333" stroke-width="1.3"/>
<text x="318" y="572.6" font-size="8.6" textLength="23" lengthAdjust="spacingAndGlyphs" stroke="#111" stroke-width="0.32">iGranulo</text>
<line x1="367.4" y1="558" x2="367.4" y2="560.6" stroke="#333" stroke-width="1.3"/>
<text x="354" y="572.6" font-size="8.6" textLength="26.8" lengthAdjust="spacingAndGlyphs" stroke="#111" stroke-width="0.32">mGranulo</text>
<text x="262.2" y="506.3" font-size="8.4" textLength="63.8" lengthAdjust="spacingAndGlyphs" stroke="#111" stroke-width="0.36" transform="rotate(-90 294.1 506.3)">Total cell counts (x10<tspan font-size="5" dy="-2.6">3</tspan><tspan dy="2.6">)</tspan></text>
<line x1="322.3" y1="543.2" x2="322.3" y2="556" stroke="#3a3a3a" stroke-width="1.2"/>
<line x1="319.7" y1="543.2" x2="324.9" y2="543.2" stroke="#3a3a3a" stroke-width="1.2"/>
<line x1="319.7" y1="556" x2="324.9" y2="556" stroke="#3a3a3a" stroke-width="1.2"/>
<line x1="318" y1="548.5" x2="326.6" y2="548.5" stroke="#3a3a3a" stroke-width="1.2"/>
<circle cx="322.3" cy="533.7" r="2.1" fill="none" stroke="#cc1b37" stroke-width="1.1"/>
<circle cx="322.9" cy="538.3" r="2.1" fill="none" stroke="#cc1b37" stroke-width="1.1"/>
<circle cx="321.4" cy="544.5" r="2.1" fill="none" stroke="#cc1b37" stroke-width="1.1"/>
<circle cx="320.8" cy="548.5" r="2.1" fill="none" stroke="#cc1b37" stroke-width="1.1"/>
<circle cx="325.4" cy="553.1" r="2.1" fill="none" stroke="#cc1b37" stroke-width="1.1"/>
<circle cx="320.2" cy="556.2" r="2.1" fill="none" stroke="#cc1b37" stroke-width="1.1"/>
<line x1="337.1" y1="551" x2="337.1" y2="557" stroke="#3a3a3a" stroke-width="1.2"/>
<line x1="334.5" y1="551" x2="339.7" y2="551" stroke="#3a3a3a" stroke-width="1.2"/>
<line x1="334.5" y1="557" x2="339.7" y2="557" stroke="#3a3a3a" stroke-width="1.2"/>
<line x1="332.8" y1="553.7" x2="341.4" y2="553.7" stroke="#3a3a3a" stroke-width="1.2"/>
<circle cx="336.2" cy="550.6" r="2.1" fill="none" stroke="#185591" stroke-width="1.1"/>
<circle cx="340.8" cy="551.5" r="2.1" fill="none" stroke="#185591" stroke-width="1.1"/>
<circle cx="334.6" cy="554.6" r="2.1" fill="none" stroke="#185591" stroke-width="1.1"/>
<circle cx="339.2" cy="556.8" r="2.1" fill="none" stroke="#185591" stroke-width="1.1"/>
<line x1="360.8" y1="498.3" x2="360.8" y2="536.2" stroke="#3a3a3a" stroke-width="1.2"/>
<line x1="358.2" y1="498.3" x2="363.4" y2="498.3" stroke="#3a3a3a" stroke-width="1.2"/>
<line x1="358.2" y1="536.2" x2="363.4" y2="536.2" stroke="#3a3a3a" stroke-width="1.2"/>
<line x1="356.5" y1="518.6" x2="365.1" y2="518.6" stroke="#3a3a3a" stroke-width="1.2"/>
<circle cx="360.8" cy="491.5" r="2.1" fill="none" stroke="#cc1b37" stroke-width="1.1"/>
<circle cx="360.8" cy="499.2" r="2.1" fill="none" stroke="#cc1b37" stroke-width="1.1"/>
<circle cx="360.8" cy="510.6" r="2.1" fill="none" stroke="#cc1b37" stroke-width="1.1"/>
<circle cx="360.8" cy="526" r="2.1" fill="none" stroke="#cc1b37" stroke-width="1.1"/>
<circle cx="358.6" cy="536.2" r="2.1" fill="none" stroke="#cc1b37" stroke-width="1.1"/>
<circle cx="362.9" cy="536.2" r="2.1" fill="none" stroke="#cc1b37" stroke-width="1.1"/>
<line x1="375.2" y1="486.9" x2="375.2" y2="545.4" stroke="#3a3a3a" stroke-width="1.2"/>
<line x1="372.6" y1="486.9" x2="377.8" y2="486.9" stroke="#3a3a3a" stroke-width="1.2"/>
<line x1="372.6" y1="545.4" x2="377.8" y2="545.4" stroke="#3a3a3a" stroke-width="1.2"/>
<line x1="370.8" y1="514.4" x2="379.6" y2="514.4" stroke="#3a3a3a" stroke-width="1.2"/>
<circle cx="373.1" cy="485.4" r="2.1" fill="none" stroke="#185591" stroke-width="1.1"/>
<circle cx="377.7" cy="487.8" r="2.1" fill="none" stroke="#185591" stroke-width="1.1"/>
<circle cx="375.2" cy="513.7" r="2.1" fill="none" stroke="#185591" stroke-width="1.1"/>
<circle cx="373.1" cy="547.5" r="2.1" fill="none" stroke="#185591" stroke-width="1.1"/>
<circle cx="377.7" cy="544.5" r="2.1" fill="none" stroke="#185591" stroke-width="1.1"/>
<circle cx="320.2" cy="456.5" r="2" fill="none" stroke="#cc1b37" stroke-width="1.2"/>
<text x="329" y="459.5" font-size="8.2" textLength="15.6" lengthAdjust="spacingAndGlyphs" stroke="#111" stroke-width="0.33">ADA2</text>
<circle cx="320.2" cy="466.3" r="2" fill="none" stroke="#185591" stroke-width="1.2"/>
<text x="329" y="469.3" font-size="8.2" textLength="12.5" lengthAdjust="spacingAndGlyphs" stroke="#111" stroke-width="0.33">GFP</text>
<line x1="425.3" y1="452.9" x2="425.3" y2="558.7" stroke="#333" stroke-width="1.55"/>
<line x1="422.1" y1="558" x2="425.3" y2="558" stroke="#333" stroke-width="1.3"/>
<text x="415.97" y="560.3" font-size="7.6" stroke="#111" stroke-width="0.15">0</text>
<line x1="422.1" y1="531.9" x2="425.3" y2="531.9" stroke="#333" stroke-width="1.3"/>
<text x="415.97" y="534.2" font-size="7.6" stroke="#111" stroke-width="0.15">1</text>
<line x1="422.1" y1="505.8" x2="425.3" y2="505.8" stroke="#333" stroke-width="1.3"/>
<text x="415.97" y="508.1" font-size="7.6" stroke="#111" stroke-width="0.15">2</text>
<line x1="422.1" y1="479.7" x2="425.3" y2="479.7" stroke="#333" stroke-width="1.3"/>
<text x="415.97" y="482" font-size="7.6" stroke="#111" stroke-width="0.15">3</text>
<line x1="422.1" y1="453.6" x2="425.3" y2="453.6" stroke="#333" stroke-width="1.3"/>
<text x="415.97" y="455.9" font-size="7.6" stroke="#111" stroke-width="0.15">4</text>
<line x1="424.6" y1="558" x2="497.1" y2="558" stroke="#333" stroke-width="1.55"/>
<line x1="441.3" y1="558" x2="441.3" y2="560.6" stroke="#333" stroke-width="1.3"/>
<text x="431.07" y="573.4" font-size="8" stroke="#111" stroke-width="0.22">CD33</text>
<line x1="479.3" y1="558" x2="479.3" y2="560.6" stroke="#333" stroke-width="1.3"/>
<text x="469.07" y="573.4" font-size="8" stroke="#111" stroke-width="0.22">CD14</text>
<text x="376" y="506.3" font-size="8.4" textLength="63.8" lengthAdjust="spacingAndGlyphs" stroke="#111" stroke-width="0.36" transform="rotate(-90 407.9 506.3)">Total cell counts (x10<tspan font-size="5" dy="-2.6">3</tspan><tspan dy="2.6">)</tspan></text>
<line x1="433.9" y1="499.5" x2="433.9" y2="541.7" stroke="#3a3a3a" stroke-width="1.2"/>
<line x1="431.3" y1="499.5" x2="436.5" y2="499.5" stroke="#3a3a3a" stroke-width="1.2"/>
<line x1="431.3" y1="541.7" x2="436.5" y2="541.7" stroke="#3a3a3a" stroke-width="1.2"/>
<line x1="429.6" y1="516.2" x2="438.2" y2="516.2" stroke="#3a3a3a" stroke-width="1.2"/>
<circle cx="433.9" cy="482" r="2.1" fill="none" stroke="#cc1b37" stroke-width="1.1"/>
<circle cx="433.9" cy="504.9" r="2.1" fill="none" stroke="#cc1b37" stroke-width="1.1"/>
<circle cx="433.9" cy="511.6" r="2.1" fill="none" stroke="#cc1b37" stroke-width="1.1"/>
<circle cx="433.9" cy="521" r="2.1" fill="none" stroke="#cc1b37" stroke-width="1.1"/>
<circle cx="433.9" cy="540.4" r="2.1" fill="none" stroke="#cc1b37" stroke-width="1.1"/>
<circle cx="433.9" cy="545.8" r="2.1" fill="none" stroke="#cc1b37" stroke-width="1.1"/>
<line x1="448.7" y1="518" x2="448.7" y2="546.3" stroke="#3a3a3a" stroke-width="1.2"/>
<line x1="446.1" y1="518" x2="451.3" y2="518" stroke="#3a3a3a" stroke-width="1.2"/>
<line x1="446.1" y1="546.3" x2="451.3" y2="546.3" stroke="#3a3a3a" stroke-width="1.2"/>
<line x1="444.4" y1="541.7" x2="453" y2="541.7" stroke="#3a3a3a" stroke-width="1.2"/>
<circle cx="448.7" cy="511.6" r="2.1" fill="none" stroke="#185591" stroke-width="1.1"/>
<circle cx="448.7" cy="524.2" r="2.1" fill="none" stroke="#185591" stroke-width="1.1"/>
<circle cx="446" cy="541.7" r="2.1" fill="none" stroke="#185591" stroke-width="1.1"/>
<circle cx="451.4" cy="541.7" r="2.1" fill="none" stroke="#185591" stroke-width="1.1"/>
<circle cx="448.7" cy="550.4" r="2.1" fill="none" stroke="#185591" stroke-width="1.1"/>
<line x1="472.1" y1="536.4" x2="472.1" y2="555.2" stroke="#3a3a3a" stroke-width="1.2"/>
<line x1="469.5" y1="536.4" x2="474.7" y2="536.4" stroke="#3a3a3a" stroke-width="1.2"/>
<line x1="469.5" y1="555.2" x2="474.7" y2="555.2" stroke="#3a3a3a" stroke-width="1.2"/>
<line x1="467.8" y1="545" x2="476.4" y2="545" stroke="#3a3a3a" stroke-width="1.2"/>
<circle cx="472.1" cy="530.2" r="2.1" fill="none" stroke="#cc1b37" stroke-width="1.1"/>
<circle cx="470.2" cy="539" r="2.1" fill="none" stroke="#cc1b37" stroke-width="1.1"/>
<circle cx="474.2" cy="541.2" r="2.1" fill="none" stroke="#cc1b37" stroke-width="1.1"/>
<circle cx="470.2" cy="545.8" r="2.1" fill="none" stroke="#cc1b37" stroke-width="1.1"/>
<circle cx="474.2" cy="553.9" r="2.1" fill="none" stroke="#cc1b37" stroke-width="1.1"/>
<circle cx="470.2" cy="554.7" r="2.1" fill="none" stroke="#cc1b37" stroke-width="1.1"/>
<line x1="486.4" y1="546.3" x2="486.4" y2="557.5" stroke="#3a3a3a" stroke-width="1.2"/>
<line x1="483.8" y1="546.3" x2="489" y2="546.3" stroke="#3a3a3a" stroke-width="1.2"/>
<line x1="483.8" y1="557.5" x2="489" y2="557.5" stroke="#3a3a3a" stroke-width="1.2"/>
<line x1="482.1" y1="554.4" x2="490.7" y2="554.4" stroke="#3a3a3a" stroke-width="1.2"/>
<circle cx="484.5" cy="543.6" r="2.1" fill="none" stroke="#185591" stroke-width="1.1"/>
<circle cx="487.2" cy="547.7" r="2.1" fill="none" stroke="#185591" stroke-width="1.1"/>
<circle cx="486.4" cy="554.4" r="2.1" fill="none" stroke="#185591" stroke-width="1.1"/>
<circle cx="483.7" cy="556.5" r="2.1" fill="none" stroke="#185591" stroke-width="1.1"/>
<circle cx="489" cy="556.5" r="2.1" fill="none" stroke="#185591" stroke-width="1.1"/>
<circle cx="431.7" cy="456.4" r="2" fill="none" stroke="#cc1b37" stroke-width="1.2"/>
<text x="440.6" y="459.4" font-size="8.2" textLength="15.6" lengthAdjust="spacingAndGlyphs" stroke="#111" stroke-width="0.33">ADA2</text>
<circle cx="431.7" cy="465.8" r="2" fill="none" stroke="#185591" stroke-width="1.2"/>
<text x="440.6" y="468.8" font-size="8.2" textLength="12.5" lengthAdjust="spacingAndGlyphs" stroke="#111" stroke-width="0.33">GFP</text>
</svg>
</body></html>
